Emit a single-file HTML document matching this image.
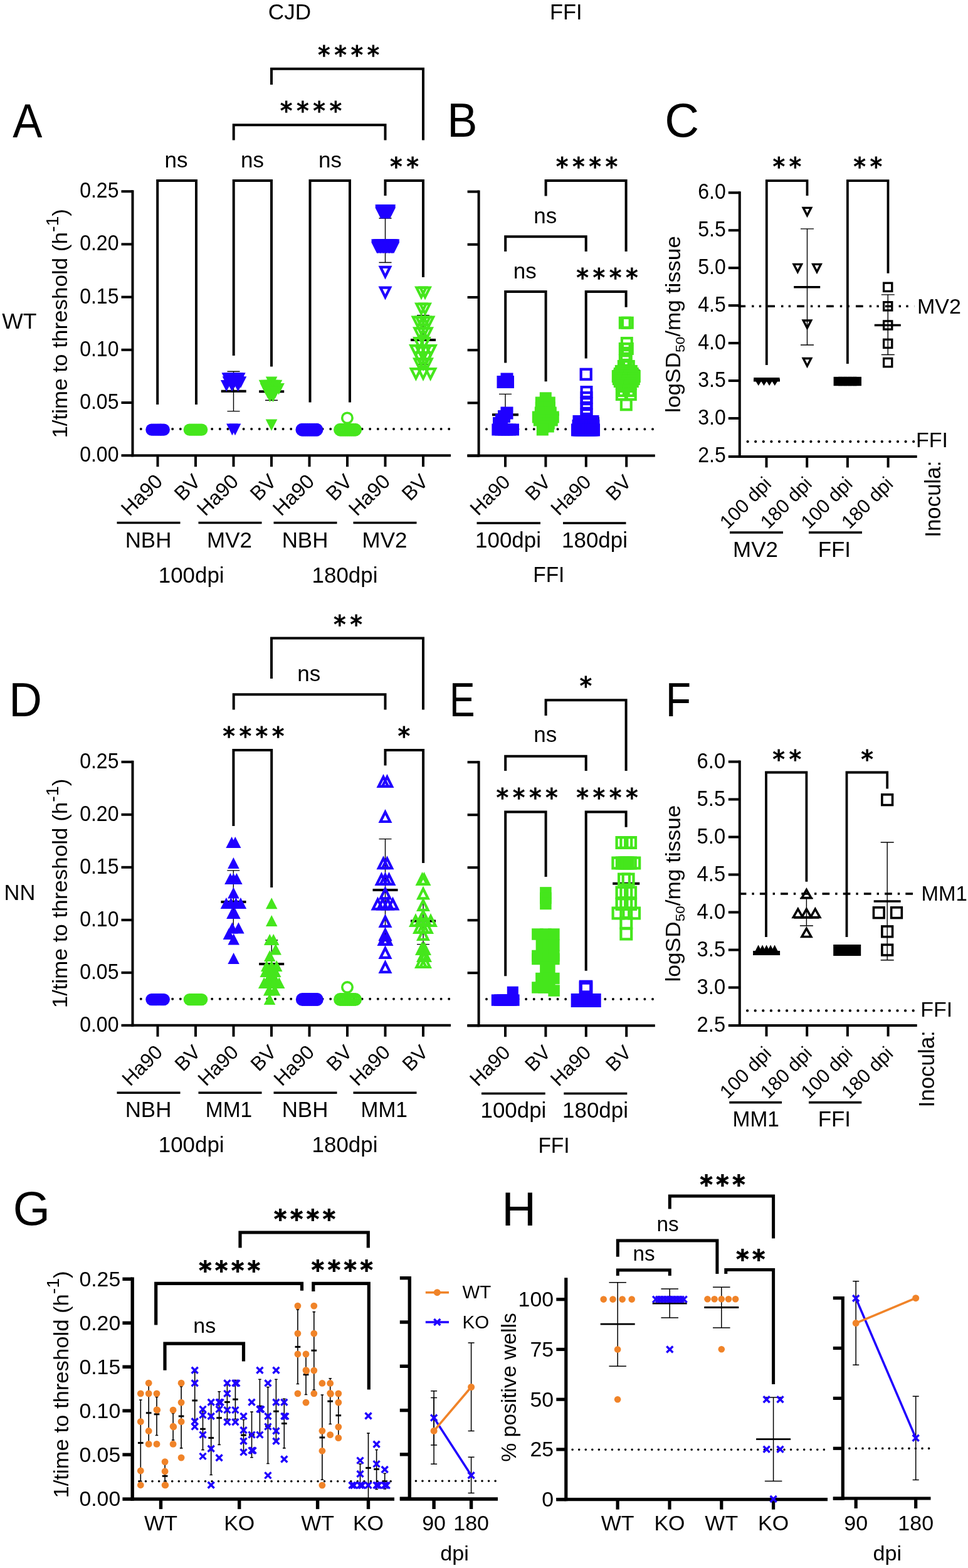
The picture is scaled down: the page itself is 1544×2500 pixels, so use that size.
<!DOCTYPE html>
<html lang="en">
<head>
<meta charset="utf-8">
<title>RT-QuIC seeding activity figure</title>
<style>
html,body{margin:0;padding:0;background:#fff;}
body{width:1544px;height:2500px;overflow:hidden;}
svg{display:block;}
svg text{font-family:"Liberation Sans",sans-serif;fill:#000;}
svg text.st{font-family:"DejaVu Sans","Liberation Sans",sans-serif;stroke:#000;stroke-width:1.25px;}
svg text.sb{font-family:"DejaVu Sans","Liberation Sans",sans-serif;stroke:#000;stroke-width:2px;}
</style>
</head>
<body>
<svg width="1544" height="2500" viewBox="0 0 1544 2500">
<rect x="0" y="0" width="1544" height="2500" fill="#fff"/>
<text transform="translate(462 30.6) scale(0.99 1)" font-size="35.5" text-anchor="middle">CJD</text>
<text transform="translate(902.8 30.6) scale(0.97 1)" font-size="35.5" text-anchor="middle">FFI</text>
<text x="3.3" y="523.8" font-size="35.5">WT</text>
<text transform="translate(6.6 1434.5) scale(0.97 1)" font-size="35.5">NN</text>
<text transform="translate(20.29 218.5) scale(0.93 1)" font-size="76" class="pl">A</text>
<text transform="translate(713.3 218.4) scale(0.95 1)" font-size="76" class="pl">B</text>
<text transform="translate(1060.27 218.4) scale(1 1)" font-size="76" class="pl">C</text>
<text transform="translate(14.21 1141.8) scale(0.96 1)" font-size="76" class="pl">D</text>
<text transform="translate(716.99 1141.9) scale(0.8 1)" font-size="76" class="pl">E</text>
<text transform="translate(1061.84 1141.9) scale(0.87 1)" font-size="76" class="pl">F</text>
<text transform="translate(20.76 1953.4) scale(1 1)" font-size="76" class="pl">G</text>
<text transform="translate(800.26 1953.9) scale(1 1)" font-size="76" class="pl">H</text>
<line x1="211.5" y1="303.2" x2="211.5" y2="728.2" stroke="#000" stroke-width="4"/>
<line x1="193.5" y1="305.2" x2="211.5" y2="305.2" stroke="#000" stroke-width="4"/>
<text transform="translate(189.5 315.2) scale(0.91 1)" font-size="35.2" text-anchor="end">0.25</text>
<line x1="193.5" y1="389.4" x2="211.5" y2="389.4" stroke="#000" stroke-width="4"/>
<text transform="translate(189.5 399.4) scale(0.91 1)" font-size="35.2" text-anchor="end">0.20</text>
<line x1="193.5" y1="473.6" x2="211.5" y2="473.6" stroke="#000" stroke-width="4"/>
<text transform="translate(189.5 483.6) scale(0.91 1)" font-size="35.2" text-anchor="end">0.15</text>
<line x1="193.5" y1="557.8" x2="211.5" y2="557.8" stroke="#000" stroke-width="4"/>
<text transform="translate(189.5 567.8) scale(0.91 1)" font-size="35.2" text-anchor="end">0.10</text>
<line x1="193.5" y1="642" x2="211.5" y2="642" stroke="#000" stroke-width="4"/>
<text transform="translate(189.5 652) scale(0.91 1)" font-size="35.2" text-anchor="end">0.05</text>
<line x1="193.5" y1="726.2" x2="211.5" y2="726.2" stroke="#000" stroke-width="4"/>
<text transform="translate(189.5 736.2) scale(0.91 1)" font-size="35.2" text-anchor="end">0.00</text>
<line x1="209.5" y1="726.2" x2="719" y2="726.2" stroke="#000" stroke-width="4"/>
<line x1="251.5" y1="726.2" x2="251.5" y2="744.2" stroke="#000" stroke-width="4"/>
<line x1="312" y1="726.2" x2="312" y2="744.2" stroke="#000" stroke-width="4"/>
<line x1="372.5" y1="726.2" x2="372.5" y2="744.2" stroke="#000" stroke-width="4"/>
<line x1="433" y1="726.2" x2="433" y2="744.2" stroke="#000" stroke-width="4"/>
<line x1="493.5" y1="726.2" x2="493.5" y2="744.2" stroke="#000" stroke-width="4"/>
<line x1="554" y1="726.2" x2="554" y2="744.2" stroke="#000" stroke-width="4"/>
<line x1="614.5" y1="726.2" x2="614.5" y2="744.2" stroke="#000" stroke-width="4"/>
<line x1="675" y1="726.2" x2="675" y2="744.2" stroke="#000" stroke-width="4"/>
<line x1="224.8" y1="684.1" x2="717" y2="684.1" stroke="#000" stroke-width="4" stroke-dasharray="0 12.6" stroke-linecap="round"/>
<line x1="763.6" y1="303.6" x2="763.6" y2="728.6" stroke="#000" stroke-width="4"/>
<line x1="745.6" y1="305.6" x2="763.6" y2="305.6" stroke="#000" stroke-width="4"/>
<line x1="745.6" y1="389.8" x2="763.6" y2="389.8" stroke="#000" stroke-width="4"/>
<line x1="745.6" y1="474" x2="763.6" y2="474" stroke="#000" stroke-width="4"/>
<line x1="745.6" y1="558.2" x2="763.6" y2="558.2" stroke="#000" stroke-width="4"/>
<line x1="745.6" y1="642.4" x2="763.6" y2="642.4" stroke="#000" stroke-width="4"/>
<line x1="745.6" y1="726.6" x2="763.6" y2="726.6" stroke="#000" stroke-width="4"/>
<line x1="745.3" y1="726.6" x2="1044.8" y2="726.6" stroke="#000" stroke-width="4"/>
<line x1="806" y1="726.6" x2="806" y2="744.6" stroke="#000" stroke-width="4"/>
<line x1="870.4" y1="726.6" x2="870.4" y2="744.6" stroke="#000" stroke-width="4"/>
<line x1="934.8" y1="726.6" x2="934.8" y2="744.6" stroke="#000" stroke-width="4"/>
<line x1="999.2" y1="726.6" x2="999.2" y2="744.6" stroke="#000" stroke-width="4"/>
<line x1="776" y1="684.3" x2="1043" y2="684.3" stroke="#000" stroke-width="4" stroke-dasharray="0 12.62" stroke-linecap="round"/>
<text transform="translate(107 515.8) rotate(-90) scale(1.06 1)" font-size="33" text-anchor="middle">1/time to threshold (h<tspan font-size="27" dy="-14.5">-1</tspan><tspan dy="14.5">)</tspan></text>
<text transform="translate(261.2 769.6) rotate(-45)" font-size="32.4" text-anchor="end">Ha90</text>
<text transform="translate(321.7 769.6) rotate(-45)" font-size="32.4" text-anchor="end">BV</text>
<text transform="translate(382.2 769.6) rotate(-45)" font-size="32.4" text-anchor="end">Ha90</text>
<text transform="translate(442.7 769.6) rotate(-45)" font-size="32.4" text-anchor="end">BV</text>
<text transform="translate(503.2 769.6) rotate(-45)" font-size="32.4" text-anchor="end">Ha90</text>
<text transform="translate(563.7 769.6) rotate(-45)" font-size="32.4" text-anchor="end">BV</text>
<text transform="translate(624.2 769.6) rotate(-45)" font-size="32.4" text-anchor="end">Ha90</text>
<text transform="translate(684.7 769.6) rotate(-45)" font-size="32.4" text-anchor="end">BV</text>
<line x1="186.5" y1="833.5" x2="287.5" y2="833.5" stroke="#000" stroke-width="3.5"/>
<line x1="316.5" y1="833.5" x2="417.5" y2="833.5" stroke="#000" stroke-width="3.5"/>
<line x1="436.5" y1="833.5" x2="537.5" y2="833.5" stroke="#000" stroke-width="3.5"/>
<line x1="563.5" y1="833.5" x2="664.5" y2="833.5" stroke="#000" stroke-width="3.5"/>
<text transform="translate(236.5 873) scale(0.97 1)" font-size="36" text-anchor="middle">NBH</text>
<text transform="translate(366 873) scale(0.97 1)" font-size="36" text-anchor="middle">MV2</text>
<text transform="translate(486.5 873) scale(0.97 1)" font-size="36" text-anchor="middle">NBH</text>
<text transform="translate(613.5 873) scale(0.97 1)" font-size="36" text-anchor="middle">MV2</text>
<text transform="translate(305.2 929) scale(0.97 1)" font-size="36" text-anchor="middle">100dpi</text>
<text transform="translate(550 929) scale(0.97 1)" font-size="36" text-anchor="middle">180dpi</text>
<path d="M251.2 645V288H313V645" fill="none" stroke="#000" stroke-width="4" stroke-linejoin="miter"/>
<path d="M372.7 567V288H433V584.5" fill="none" stroke="#000" stroke-width="4" stroke-linejoin="miter"/>
<path d="M494.5 641.5V288H558V641.5" fill="none" stroke="#000" stroke-width="4" stroke-linejoin="miter"/>
<path d="M614.5 312V288H675V442" fill="none" stroke="#000" stroke-width="4" stroke-linejoin="miter"/>
<path d="M372.7 223.5V199.3H614.5V223.5" fill="none" stroke="#000" stroke-width="4" stroke-linejoin="miter"/>
<path d="M433 135V109.8H675V223.5" fill="none" stroke="#000" stroke-width="4" stroke-linejoin="miter"/>
<text x="281" y="266.5" font-size="35" text-anchor="middle">ns</text>
<text x="402.5" y="266.5" font-size="35" text-anchor="middle">ns</text>
<text x="526.5" y="266.5" font-size="35" text-anchor="middle">ns</text>
<text x="622.27" y="279.13" font-size="38.5" class="st" letter-spacing="6.95">**</text>
<text x="447.08" y="190.43" font-size="38.5" class="st" letter-spacing="6.95">****</text>
<text x="507.28" y="101.43" font-size="38.5" class="st" letter-spacing="6.95">****</text>
<circle cx="241.9" cy="685.1" r="9.65" fill="#1f00ff"/>
<circle cx="244.67" cy="685.1" r="9.65" fill="#1f00ff"/>
<circle cx="247.44" cy="685.1" r="9.65" fill="#1f00ff"/>
<circle cx="250.21" cy="685.1" r="9.65" fill="#1f00ff"/>
<circle cx="252.99" cy="685.1" r="9.65" fill="#1f00ff"/>
<circle cx="255.76" cy="685.1" r="9.65" fill="#1f00ff"/>
<circle cx="258.53" cy="685.1" r="9.65" fill="#1f00ff"/>
<circle cx="261.3" cy="685.1" r="9.65" fill="#1f00ff"/>
<circle cx="302.3" cy="685.1" r="9.65" fill="#45e61c"/>
<circle cx="305.07" cy="685.1" r="9.65" fill="#45e61c"/>
<circle cx="307.84" cy="685.1" r="9.65" fill="#45e61c"/>
<circle cx="310.61" cy="685.1" r="9.65" fill="#45e61c"/>
<circle cx="313.39" cy="685.1" r="9.65" fill="#45e61c"/>
<circle cx="316.16" cy="685.1" r="9.65" fill="#45e61c"/>
<circle cx="318.93" cy="685.1" r="9.65" fill="#45e61c"/>
<circle cx="321.7" cy="685.1" r="9.65" fill="#45e61c"/>
<path d="M372.5 592.3V655.6M362.5 592.3H382.5M362.5 655.6H382.5" stroke="#000" stroke-width="1.4" fill="none"/>
<line x1="352.7" y1="623.7" x2="392.7" y2="623.7" stroke="#000" stroke-width="4"/>
<polygon points="353.5,594.3 372.1,594.3 362.8,612.9" fill="#1f00ff"/>
<polygon points="356.75,594.3 375.35,594.3 366.05,612.9" fill="#1f00ff"/>
<polygon points="360,594.3 378.6,594.3 369.3,612.9" fill="#1f00ff"/>
<polygon points="363.25,594.3 381.85,594.3 372.55,612.9" fill="#1f00ff"/>
<polygon points="366.5,594.3 385.1,594.3 375.8,612.9" fill="#1f00ff"/>
<polygon points="369.75,594.3 388.35,594.3 379.05,612.9" fill="#1f00ff"/>
<polygon points="373,594.3 391.6,594.3 382.3,612.9" fill="#1f00ff"/>
<polygon points="354.7,600.2 373.3,600.2 364,618.8" fill="#1f00ff"/>
<polygon points="358.03,600.2 376.63,600.2 367.33,618.8" fill="#1f00ff"/>
<polygon points="361.37,600.2 379.97,600.2 370.67,618.8" fill="#1f00ff"/>
<polygon points="364.7,600.2 383.3,600.2 374,618.8" fill="#1f00ff"/>
<polygon points="368.03,600.2 386.63,600.2 377.33,618.8" fill="#1f00ff"/>
<polygon points="371.37,600.2 389.97,600.2 380.67,618.8" fill="#1f00ff"/>
<polygon points="374.7,600.2 393.3,600.2 384,618.8" fill="#1f00ff"/>
<polygon points="351.9,606 370.5,606 361.2,624.6" fill="#1f00ff"/>
<polygon points="360.7,606 379.3,606 370,624.6" fill="#1f00ff"/>
<polygon points="370.4,606 389,606 379.7,624.6" fill="#1f00ff"/>
<polygon points="361.1,675.6 379.7,675.6 370.4,694.2" fill="#1f00ff"/>
<polygon points="365.7,675.6 384.3,675.6 375,694.2" fill="#1f00ff"/>
<path d="M433 610V638.3M423 610H443M423 638.3H443" stroke="#000" stroke-width="1.4" fill="none"/>
<line x1="413.2" y1="624.2" x2="453.2" y2="624.2" stroke="#000" stroke-width="4"/>
<polygon points="423.8,600.6 442.4,600.6 433.1,619.2" fill="#45e61c"/>
<polygon points="412.7,605.7 431.3,605.7 422,624.3" fill="#45e61c"/>
<polygon points="416.5,605.7 435.1,605.7 425.8,624.3" fill="#45e61c"/>
<polygon points="420.3,605.7 438.9,605.7 429.6,624.3" fill="#45e61c"/>
<polygon points="424.1,605.7 442.7,605.7 433.4,624.3" fill="#45e61c"/>
<polygon points="427.9,605.7 446.5,605.7 437.2,624.3" fill="#45e61c"/>
<polygon points="431.7,605.7 450.3,605.7 441,624.3" fill="#45e61c"/>
<polygon points="414.7,611 433.3,611 424,629.6" fill="#45e61c"/>
<polygon points="418.82,611 437.42,611 428.12,629.6" fill="#45e61c"/>
<polygon points="422.94,611 441.54,611 432.24,629.6" fill="#45e61c"/>
<polygon points="427.06,611 445.66,611 436.36,629.6" fill="#45e61c"/>
<polygon points="431.18,611 449.78,611 440.48,629.6" fill="#45e61c"/>
<polygon points="435.3,611 453.9,611 444.6,629.6" fill="#45e61c"/>
<polygon points="417.7,616.7 436.3,616.7 427,635.3" fill="#45e61c"/>
<polygon points="423.7,616.7 442.3,616.7 433,635.3" fill="#45e61c"/>
<polygon points="429.7,616.7 448.3,616.7 439,635.3" fill="#45e61c"/>
<polygon points="421.2,622.6 439.8,622.6 430.5,641.2" fill="#45e61c"/>
<polygon points="426.2,622.6 444.8,622.6 435.5,641.2" fill="#45e61c"/>
<polygon points="423.7,668.4 442.3,668.4 433,687" fill="#45e61c"/>
<circle cx="481.9" cy="685.2" r="8.7" fill="none" stroke="#1f00ff" stroke-width="3.6"/>
<circle cx="484.77" cy="685.2" r="8.7" fill="none" stroke="#1f00ff" stroke-width="3.6"/>
<circle cx="487.65" cy="685.2" r="8.7" fill="none" stroke="#1f00ff" stroke-width="3.6"/>
<circle cx="490.52" cy="685.2" r="8.7" fill="none" stroke="#1f00ff" stroke-width="3.6"/>
<circle cx="493.4" cy="685.2" r="8.7" fill="none" stroke="#1f00ff" stroke-width="3.6"/>
<circle cx="496.27" cy="685.2" r="8.7" fill="none" stroke="#1f00ff" stroke-width="3.6"/>
<circle cx="499.15" cy="685.2" r="8.7" fill="none" stroke="#1f00ff" stroke-width="3.6"/>
<circle cx="502.02" cy="685.2" r="8.7" fill="none" stroke="#1f00ff" stroke-width="3.6"/>
<circle cx="504.9" cy="685.2" r="8.7" fill="none" stroke="#1f00ff" stroke-width="3.6"/>
<circle cx="542.6" cy="685.2" r="8.7" fill="none" stroke="#45e61c" stroke-width="3.6"/>
<circle cx="545.6" cy="685.2" r="8.7" fill="none" stroke="#45e61c" stroke-width="3.6"/>
<circle cx="548.6" cy="685.2" r="8.7" fill="none" stroke="#45e61c" stroke-width="3.6"/>
<circle cx="551.6" cy="685.2" r="8.7" fill="none" stroke="#45e61c" stroke-width="3.6"/>
<circle cx="554.6" cy="685.2" r="8.7" fill="none" stroke="#45e61c" stroke-width="3.6"/>
<circle cx="557.6" cy="685.2" r="8.7" fill="none" stroke="#45e61c" stroke-width="3.6"/>
<circle cx="560.6" cy="685.2" r="8.7" fill="none" stroke="#45e61c" stroke-width="3.6"/>
<circle cx="563.6" cy="685.2" r="8.7" fill="none" stroke="#45e61c" stroke-width="3.6"/>
<circle cx="566.6" cy="685.2" r="8.7" fill="none" stroke="#45e61c" stroke-width="3.6"/>
<circle cx="553.9" cy="666.4" r="8.2" fill="none" stroke="#45e61c" stroke-width="3.6"/>
<path d="M614.5 348V418.5M604.5 348H624.5M604.5 418.5H624.5" stroke="#000" stroke-width="1.4" fill="none"/>
<polygon points="598.2,326.3 616.8,326.3 607.5,344.9" fill="#1f00ff"/>
<polygon points="599.51,326.3 618.11,326.3 608.81,344.9" fill="#1f00ff"/>
<polygon points="600.82,326.3 619.42,326.3 610.12,344.9" fill="#1f00ff"/>
<polygon points="602.13,326.3 620.73,326.3 611.43,344.9" fill="#1f00ff"/>
<polygon points="603.44,326.3 622.04,326.3 612.74,344.9" fill="#1f00ff"/>
<polygon points="604.75,326.3 623.35,326.3 614.05,344.9" fill="#1f00ff"/>
<polygon points="606.05,326.3 624.65,326.3 615.35,344.9" fill="#1f00ff"/>
<polygon points="607.36,326.3 625.96,326.3 616.66,344.9" fill="#1f00ff"/>
<polygon points="608.67,326.3 627.27,326.3 617.97,344.9" fill="#1f00ff"/>
<polygon points="609.98,326.3 628.58,326.3 619.28,344.9" fill="#1f00ff"/>
<polygon points="611.29,326.3 629.89,326.3 620.59,344.9" fill="#1f00ff"/>
<polygon points="612.6,326.3 631.2,326.3 621.9,344.9" fill="#1f00ff"/>
<polygon points="598.2,328.5 616.8,328.5 607.5,347.1" fill="#1f00ff"/>
<polygon points="599.51,328.5 618.11,328.5 608.81,347.1" fill="#1f00ff"/>
<polygon points="600.82,328.5 619.42,328.5 610.12,347.1" fill="#1f00ff"/>
<polygon points="602.13,328.5 620.73,328.5 611.43,347.1" fill="#1f00ff"/>
<polygon points="603.44,328.5 622.04,328.5 612.74,347.1" fill="#1f00ff"/>
<polygon points="604.75,328.5 623.35,328.5 614.05,347.1" fill="#1f00ff"/>
<polygon points="606.05,328.5 624.65,328.5 615.35,347.1" fill="#1f00ff"/>
<polygon points="607.36,328.5 625.96,328.5 616.66,347.1" fill="#1f00ff"/>
<polygon points="608.67,328.5 627.27,328.5 617.97,347.1" fill="#1f00ff"/>
<polygon points="609.98,328.5 628.58,328.5 619.28,347.1" fill="#1f00ff"/>
<polygon points="611.29,328.5 629.89,328.5 620.59,347.1" fill="#1f00ff"/>
<polygon points="612.6,328.5 631.2,328.5 621.9,347.1" fill="#1f00ff"/>
<polygon points="598.2,330.5 616.8,330.5 607.5,349.1" fill="#1f00ff"/>
<polygon points="599.51,330.5 618.11,330.5 608.81,349.1" fill="#1f00ff"/>
<polygon points="600.82,330.5 619.42,330.5 610.12,349.1" fill="#1f00ff"/>
<polygon points="602.13,330.5 620.73,330.5 611.43,349.1" fill="#1f00ff"/>
<polygon points="603.44,330.5 622.04,330.5 612.74,349.1" fill="#1f00ff"/>
<polygon points="604.75,330.5 623.35,330.5 614.05,349.1" fill="#1f00ff"/>
<polygon points="606.05,330.5 624.65,330.5 615.35,349.1" fill="#1f00ff"/>
<polygon points="607.36,330.5 625.96,330.5 616.66,349.1" fill="#1f00ff"/>
<polygon points="608.67,330.5 627.27,330.5 617.97,349.1" fill="#1f00ff"/>
<polygon points="609.98,330.5 628.58,330.5 619.28,349.1" fill="#1f00ff"/>
<polygon points="611.29,330.5 629.89,330.5 620.59,349.1" fill="#1f00ff"/>
<polygon points="612.6,330.5 631.2,330.5 621.9,349.1" fill="#1f00ff"/>
<polygon points="592,381.6 610.6,381.6 601.3,400.2" fill="#1f00ff"/>
<polygon points="593.28,381.6 611.88,381.6 602.58,400.2" fill="#1f00ff"/>
<polygon points="594.55,381.6 613.15,381.6 603.85,400.2" fill="#1f00ff"/>
<polygon points="595.83,381.6 614.43,381.6 605.13,400.2" fill="#1f00ff"/>
<polygon points="597.1,381.6 615.7,381.6 606.4,400.2" fill="#1f00ff"/>
<polygon points="598.38,381.6 616.98,381.6 607.68,400.2" fill="#1f00ff"/>
<polygon points="599.66,381.6 618.26,381.6 608.96,400.2" fill="#1f00ff"/>
<polygon points="600.93,381.6 619.53,381.6 610.23,400.2" fill="#1f00ff"/>
<polygon points="602.21,381.6 620.81,381.6 611.51,400.2" fill="#1f00ff"/>
<polygon points="603.49,381.6 622.09,381.6 612.79,400.2" fill="#1f00ff"/>
<polygon points="604.76,381.6 623.36,381.6 614.06,400.2" fill="#1f00ff"/>
<polygon points="606.04,381.6 624.64,381.6 615.34,400.2" fill="#1f00ff"/>
<polygon points="607.31,381.6 625.91,381.6 616.61,400.2" fill="#1f00ff"/>
<polygon points="608.59,381.6 627.19,381.6 617.89,400.2" fill="#1f00ff"/>
<polygon points="609.87,381.6 628.47,381.6 619.17,400.2" fill="#1f00ff"/>
<polygon points="611.14,381.6 629.74,381.6 620.44,400.2" fill="#1f00ff"/>
<polygon points="612.42,381.6 631.02,381.6 621.72,400.2" fill="#1f00ff"/>
<polygon points="613.7,381.6 632.3,381.6 623,400.2" fill="#1f00ff"/>
<polygon points="614.97,381.6 633.57,381.6 624.27,400.2" fill="#1f00ff"/>
<polygon points="616.25,381.6 634.85,381.6 625.55,400.2" fill="#1f00ff"/>
<polygon points="617.52,381.6 636.12,381.6 626.82,400.2" fill="#1f00ff"/>
<polygon points="618.8,381.6 637.4,381.6 628.1,400.2" fill="#1f00ff"/>
<polygon points="592,383.7 610.6,383.7 601.3,402.3" fill="#1f00ff"/>
<polygon points="593.28,383.7 611.88,383.7 602.58,402.3" fill="#1f00ff"/>
<polygon points="594.55,383.7 613.15,383.7 603.85,402.3" fill="#1f00ff"/>
<polygon points="595.83,383.7 614.43,383.7 605.13,402.3" fill="#1f00ff"/>
<polygon points="597.1,383.7 615.7,383.7 606.4,402.3" fill="#1f00ff"/>
<polygon points="598.38,383.7 616.98,383.7 607.68,402.3" fill="#1f00ff"/>
<polygon points="599.66,383.7 618.26,383.7 608.96,402.3" fill="#1f00ff"/>
<polygon points="600.93,383.7 619.53,383.7 610.23,402.3" fill="#1f00ff"/>
<polygon points="602.21,383.7 620.81,383.7 611.51,402.3" fill="#1f00ff"/>
<polygon points="603.49,383.7 622.09,383.7 612.79,402.3" fill="#1f00ff"/>
<polygon points="604.76,383.7 623.36,383.7 614.06,402.3" fill="#1f00ff"/>
<polygon points="606.04,383.7 624.64,383.7 615.34,402.3" fill="#1f00ff"/>
<polygon points="607.31,383.7 625.91,383.7 616.61,402.3" fill="#1f00ff"/>
<polygon points="608.59,383.7 627.19,383.7 617.89,402.3" fill="#1f00ff"/>
<polygon points="609.87,383.7 628.47,383.7 619.17,402.3" fill="#1f00ff"/>
<polygon points="611.14,383.7 629.74,383.7 620.44,402.3" fill="#1f00ff"/>
<polygon points="612.42,383.7 631.02,383.7 621.72,402.3" fill="#1f00ff"/>
<polygon points="613.7,383.7 632.3,383.7 623,402.3" fill="#1f00ff"/>
<polygon points="614.97,383.7 633.57,383.7 624.27,402.3" fill="#1f00ff"/>
<polygon points="616.25,383.7 634.85,383.7 625.55,402.3" fill="#1f00ff"/>
<polygon points="617.52,383.7 636.12,383.7 626.82,402.3" fill="#1f00ff"/>
<polygon points="618.8,383.7 637.4,383.7 628.1,402.3" fill="#1f00ff"/>
<polygon points="592,385.7 610.6,385.7 601.3,404.3" fill="#1f00ff"/>
<polygon points="593.28,385.7 611.88,385.7 602.58,404.3" fill="#1f00ff"/>
<polygon points="594.55,385.7 613.15,385.7 603.85,404.3" fill="#1f00ff"/>
<polygon points="595.83,385.7 614.43,385.7 605.13,404.3" fill="#1f00ff"/>
<polygon points="597.1,385.7 615.7,385.7 606.4,404.3" fill="#1f00ff"/>
<polygon points="598.38,385.7 616.98,385.7 607.68,404.3" fill="#1f00ff"/>
<polygon points="599.66,385.7 618.26,385.7 608.96,404.3" fill="#1f00ff"/>
<polygon points="600.93,385.7 619.53,385.7 610.23,404.3" fill="#1f00ff"/>
<polygon points="602.21,385.7 620.81,385.7 611.51,404.3" fill="#1f00ff"/>
<polygon points="603.49,385.7 622.09,385.7 612.79,404.3" fill="#1f00ff"/>
<polygon points="604.76,385.7 623.36,385.7 614.06,404.3" fill="#1f00ff"/>
<polygon points="606.04,385.7 624.64,385.7 615.34,404.3" fill="#1f00ff"/>
<polygon points="607.31,385.7 625.91,385.7 616.61,404.3" fill="#1f00ff"/>
<polygon points="608.59,385.7 627.19,385.7 617.89,404.3" fill="#1f00ff"/>
<polygon points="609.87,385.7 628.47,385.7 619.17,404.3" fill="#1f00ff"/>
<polygon points="611.14,385.7 629.74,385.7 620.44,404.3" fill="#1f00ff"/>
<polygon points="612.42,385.7 631.02,385.7 621.72,404.3" fill="#1f00ff"/>
<polygon points="613.7,385.7 632.3,385.7 623,404.3" fill="#1f00ff"/>
<polygon points="614.97,385.7 633.57,385.7 624.27,404.3" fill="#1f00ff"/>
<polygon points="616.25,385.7 634.85,385.7 625.55,404.3" fill="#1f00ff"/>
<polygon points="617.52,385.7 636.12,385.7 626.82,404.3" fill="#1f00ff"/>
<polygon points="618.8,385.7 637.4,385.7 628.1,404.3" fill="#1f00ff"/>
<polygon points="606.9,425.8 622.1,425.8 614.5,441" fill="none" stroke="#1f00ff" stroke-width="4.2" stroke-linejoin="miter"/>
<polygon points="606.9,458.6 622.1,458.6 614.5,473.8" fill="none" stroke="#1f00ff" stroke-width="4.2" stroke-linejoin="miter"/>
<path d="M675 502.8V581M665 502.8H685M665 581H685" stroke="#000" stroke-width="1.4" fill="none"/>
<line x1="655" y1="541.9" x2="695" y2="541.9" stroke="#000" stroke-width="4"/>
<polygon points="664.4,458.6 679.6,458.6 672,473.8" fill="none" stroke="#45e61c" stroke-width="4.2" stroke-linejoin="miter"/>
<polygon points="670.4,458.6 685.6,458.6 678,473.8" fill="none" stroke="#45e61c" stroke-width="4.2" stroke-linejoin="miter"/>
<polygon points="664.4,484.7 679.6,484.7 672,499.9" fill="none" stroke="#45e61c" stroke-width="4.2" stroke-linejoin="miter"/>
<polygon points="670.4,484.7 685.6,484.7 678,499.9" fill="none" stroke="#45e61c" stroke-width="4.2" stroke-linejoin="miter"/>
<polygon points="658.9,505.6 674.1,505.6 666.5,520.8" fill="none" stroke="#45e61c" stroke-width="4.2" stroke-linejoin="miter"/>
<polygon points="664.4,505.6 679.6,505.6 672,520.8" fill="none" stroke="#45e61c" stroke-width="4.2" stroke-linejoin="miter"/>
<polygon points="670.4,505.6 685.6,505.6 678,520.8" fill="none" stroke="#45e61c" stroke-width="4.2" stroke-linejoin="miter"/>
<polygon points="675.9,505.6 691.1,505.6 683.5,520.8" fill="none" stroke="#45e61c" stroke-width="4.2" stroke-linejoin="miter"/>
<polygon points="661.4,523.4 676.6,523.4 669,538.6" fill="none" stroke="#45e61c" stroke-width="4.2" stroke-linejoin="miter"/>
<polygon points="667.4,523.4 682.6,523.4 675,538.6" fill="none" stroke="#45e61c" stroke-width="4.2" stroke-linejoin="miter"/>
<polygon points="673.4,523.4 688.6,523.4 681,538.6" fill="none" stroke="#45e61c" stroke-width="4.2" stroke-linejoin="miter"/>
<polygon points="661.4,539.1 676.6,539.1 669,554.3" fill="none" stroke="#45e61c" stroke-width="4.2" stroke-linejoin="miter"/>
<polygon points="669.4,539.1 684.6,539.1 677,554.3" fill="none" stroke="#45e61c" stroke-width="4.2" stroke-linejoin="miter"/>
<polygon points="655.4,551.1 670.6,551.1 663,566.3" fill="none" stroke="#45e61c" stroke-width="4.2" stroke-linejoin="miter"/>
<polygon points="663.4,551.1 678.6,551.1 671,566.3" fill="none" stroke="#45e61c" stroke-width="4.2" stroke-linejoin="miter"/>
<polygon points="671.4,551.1 686.6,551.1 679,566.3" fill="none" stroke="#45e61c" stroke-width="4.2" stroke-linejoin="miter"/>
<polygon points="679.4,551.1 694.6,551.1 687,566.3" fill="none" stroke="#45e61c" stroke-width="4.2" stroke-linejoin="miter"/>
<polygon points="661.4,562.1 676.6,562.1 669,577.3" fill="none" stroke="#45e61c" stroke-width="4.2" stroke-linejoin="miter"/>
<polygon points="673.4,562.1 688.6,562.1 681,577.3" fill="none" stroke="#45e61c" stroke-width="4.2" stroke-linejoin="miter"/>
<polygon points="661.4,572.4 676.6,572.4 669,587.6" fill="none" stroke="#45e61c" stroke-width="4.2" stroke-linejoin="miter"/>
<polygon points="667.4,572.4 682.6,572.4 675,587.6" fill="none" stroke="#45e61c" stroke-width="4.2" stroke-linejoin="miter"/>
<polygon points="673.4,572.4 688.6,572.4 681,587.6" fill="none" stroke="#45e61c" stroke-width="4.2" stroke-linejoin="miter"/>
<polygon points="655.8,588.1 671,588.1 663.4,603.3" fill="none" stroke="#45e61c" stroke-width="4.2" stroke-linejoin="miter"/>
<polygon points="667.4,588.1 682.6,588.1 675,603.3" fill="none" stroke="#45e61c" stroke-width="4.2" stroke-linejoin="miter"/>
<polygon points="679,588.1 694.2,588.1 686.6,603.3" fill="none" stroke="#45e61c" stroke-width="4.2" stroke-linejoin="miter"/>
<text transform="translate(815.7 770.4) rotate(-45)" font-size="31.4" text-anchor="end">Ha90</text>
<text transform="translate(880.1 770.4) rotate(-45)" font-size="31.4" text-anchor="end">BV</text>
<text transform="translate(944.5 770.4) rotate(-45)" font-size="31.4" text-anchor="end">Ha90</text>
<text transform="translate(1008.9 770.4) rotate(-45)" font-size="31.4" text-anchor="end">BV</text>
<line x1="760.5" y1="834" x2="862" y2="834" stroke="#000" stroke-width="3.5"/>
<line x1="898" y1="834" x2="998.5" y2="834" stroke="#000" stroke-width="3.5"/>
<text transform="translate(810.5 873) scale(0.97 1)" font-size="36" text-anchor="middle">100dpi</text>
<text transform="translate(948.5 873) scale(0.97 1)" font-size="36" text-anchor="middle">180dpi</text>
<text transform="translate(875.3 928) scale(0.93 1)" font-size="36" text-anchor="middle">FFI</text>
<path d="M806.2 578.6V465H870.6V608.3" fill="none" stroke="#000" stroke-width="4" stroke-linejoin="miter"/>
<path d="M934.7 571.6V465H998.6V489.7" fill="none" stroke="#000" stroke-width="4" stroke-linejoin="miter"/>
<path d="M806.2 401V377.3H934.7V401" fill="none" stroke="#000" stroke-width="4" stroke-linejoin="miter"/>
<path d="M870.6 312.5V288H998.6V401" fill="none" stroke="#000" stroke-width="4" stroke-linejoin="miter"/>
<text x="837.3" y="444.3" font-size="35" text-anchor="middle">ns</text>
<text x="869.7" y="356" font-size="35" text-anchor="middle">ns</text>
<text x="919.58" y="456.33" font-size="38.5" class="st" letter-spacing="6.95">****</text>
<text x="887.08" y="279.43" font-size="38.5" class="st" letter-spacing="6.95">****</text>
<path d="M806 628.4V661M796 628.4H816M796 661H816" stroke="#000" stroke-width="1.4" fill="none"/>
<line x1="785" y1="661.2" x2="827" y2="661.2" stroke="#000" stroke-width="4"/>
<rect x="798.5" y="594.5" width="20" height="20" fill="#1f00ff"/>
<rect x="792.5" y="599" width="20" height="20" fill="#1f00ff"/>
<rect x="800" y="599" width="20" height="20" fill="#1f00ff"/>
<rect x="798.5" y="648.5" width="20" height="20" fill="#1f00ff"/>
<rect x="794" y="654" width="20" height="20" fill="#1f00ff"/>
<rect x="790" y="660" width="20" height="20" fill="#1f00ff"/>
<rect x="786" y="665" width="20" height="20" fill="#1f00ff"/>
<rect x="784.4" y="675.5" width="19" height="19" fill="#1f00ff"/>
<rect x="789.32" y="675.5" width="19" height="19" fill="#1f00ff"/>
<rect x="794.24" y="675.5" width="19" height="19" fill="#1f00ff"/>
<rect x="799.16" y="675.5" width="19" height="19" fill="#1f00ff"/>
<rect x="804.08" y="675.5" width="19" height="19" fill="#1f00ff"/>
<rect x="809" y="675.5" width="19" height="19" fill="#1f00ff"/>
<line x1="849.5" y1="661" x2="891.5" y2="661" stroke="#000" stroke-width="4"/>
<rect x="860.8" y="625.3" width="19" height="19" fill="#45e61c"/>
<rect x="853.8" y="632.5" width="19" height="19" fill="#45e61c"/>
<rect x="866.8" y="632.5" width="19" height="19" fill="#45e61c"/>
<rect x="853.8" y="640.5" width="19" height="19" fill="#45e61c"/>
<rect x="866.8" y="640.5" width="19" height="19" fill="#45e61c"/>
<rect x="852.8" y="648.5" width="19" height="19" fill="#45e61c"/>
<rect x="860.8" y="648.5" width="19" height="19" fill="#45e61c"/>
<rect x="868.8" y="648.5" width="19" height="19" fill="#45e61c"/>
<rect x="848.8" y="655.5" width="19" height="19" fill="#45e61c"/>
<rect x="860.8" y="655.5" width="19" height="19" fill="#45e61c"/>
<rect x="872.8" y="655.5" width="19" height="19" fill="#45e61c"/>
<rect x="850.8" y="660.5" width="19" height="19" fill="#45e61c"/>
<rect x="860.8" y="660.5" width="19" height="19" fill="#45e61c"/>
<rect x="870.8" y="660.5" width="19" height="19" fill="#45e61c"/>
<rect x="856.8" y="665.5" width="19" height="19" fill="#45e61c"/>
<rect x="865.8" y="665.5" width="19" height="19" fill="#45e61c"/>
<rect x="856.8" y="670.5" width="19" height="19" fill="#45e61c"/>
<rect x="864.8" y="670.5" width="19" height="19" fill="#45e61c"/>
<rect x="855.8" y="675.5" width="19" height="19" fill="#45e61c"/>
<line x1="914" y1="667" x2="956" y2="667" stroke="#000" stroke-width="4"/>
<rect x="926.65" y="588.75" width="16.1" height="16.1" fill="none" stroke="#1f00ff" stroke-width="4.2"/>
<rect x="927.6" y="617.1" width="15.8" height="15.8" fill="none" stroke="#1f00ff" stroke-width="4.2"/>
<rect x="927.6" y="626.1" width="15.8" height="15.8" fill="none" stroke="#1f00ff" stroke-width="4.2"/>
<rect x="927.6" y="635.1" width="15.8" height="15.8" fill="none" stroke="#1f00ff" stroke-width="4.2"/>
<rect x="927.6" y="644.1" width="15.8" height="15.8" fill="none" stroke="#1f00ff" stroke-width="4.2"/>
<rect x="927.6" y="653.1" width="15.8" height="15.8" fill="none" stroke="#1f00ff" stroke-width="4.2"/>
<rect x="915.6" y="664.1" width="15.8" height="15.8" fill="none" stroke="#1f00ff" stroke-width="4.2"/>
<rect x="918.35" y="664.1" width="15.8" height="15.8" fill="none" stroke="#1f00ff" stroke-width="4.2"/>
<rect x="921.1" y="664.1" width="15.8" height="15.8" fill="none" stroke="#1f00ff" stroke-width="4.2"/>
<rect x="923.85" y="664.1" width="15.8" height="15.8" fill="none" stroke="#1f00ff" stroke-width="4.2"/>
<rect x="926.6" y="664.1" width="15.8" height="15.8" fill="none" stroke="#1f00ff" stroke-width="4.2"/>
<rect x="929.35" y="664.1" width="15.8" height="15.8" fill="none" stroke="#1f00ff" stroke-width="4.2"/>
<rect x="932.1" y="664.1" width="15.8" height="15.8" fill="none" stroke="#1f00ff" stroke-width="4.2"/>
<rect x="934.85" y="664.1" width="15.8" height="15.8" fill="none" stroke="#1f00ff" stroke-width="4.2"/>
<rect x="937.6" y="664.1" width="15.8" height="15.8" fill="none" stroke="#1f00ff" stroke-width="4.2"/>
<rect x="914.6" y="671.1" width="15.8" height="15.8" fill="none" stroke="#1f00ff" stroke-width="4.2"/>
<rect x="917.27" y="671.1" width="15.8" height="15.8" fill="none" stroke="#1f00ff" stroke-width="4.2"/>
<rect x="919.93" y="671.1" width="15.8" height="15.8" fill="none" stroke="#1f00ff" stroke-width="4.2"/>
<rect x="922.6" y="671.1" width="15.8" height="15.8" fill="none" stroke="#1f00ff" stroke-width="4.2"/>
<rect x="925.27" y="671.1" width="15.8" height="15.8" fill="none" stroke="#1f00ff" stroke-width="4.2"/>
<rect x="927.93" y="671.1" width="15.8" height="15.8" fill="none" stroke="#1f00ff" stroke-width="4.2"/>
<rect x="930.6" y="671.1" width="15.8" height="15.8" fill="none" stroke="#1f00ff" stroke-width="4.2"/>
<rect x="933.27" y="671.1" width="15.8" height="15.8" fill="none" stroke="#1f00ff" stroke-width="4.2"/>
<rect x="935.93" y="671.1" width="15.8" height="15.8" fill="none" stroke="#1f00ff" stroke-width="4.2"/>
<rect x="938.6" y="671.1" width="15.8" height="15.8" fill="none" stroke="#1f00ff" stroke-width="4.2"/>
<rect x="913.1" y="677.6" width="15.8" height="15.8" fill="none" stroke="#1f00ff" stroke-width="4.2"/>
<rect x="915.46" y="677.6" width="15.8" height="15.8" fill="none" stroke="#1f00ff" stroke-width="4.2"/>
<rect x="917.83" y="677.6" width="15.8" height="15.8" fill="none" stroke="#1f00ff" stroke-width="4.2"/>
<rect x="920.19" y="677.6" width="15.8" height="15.8" fill="none" stroke="#1f00ff" stroke-width="4.2"/>
<rect x="922.55" y="677.6" width="15.8" height="15.8" fill="none" stroke="#1f00ff" stroke-width="4.2"/>
<rect x="924.92" y="677.6" width="15.8" height="15.8" fill="none" stroke="#1f00ff" stroke-width="4.2"/>
<rect x="927.28" y="677.6" width="15.8" height="15.8" fill="none" stroke="#1f00ff" stroke-width="4.2"/>
<rect x="929.65" y="677.6" width="15.8" height="15.8" fill="none" stroke="#1f00ff" stroke-width="4.2"/>
<rect x="932.01" y="677.6" width="15.8" height="15.8" fill="none" stroke="#1f00ff" stroke-width="4.2"/>
<rect x="934.37" y="677.6" width="15.8" height="15.8" fill="none" stroke="#1f00ff" stroke-width="4.2"/>
<rect x="936.74" y="677.6" width="15.8" height="15.8" fill="none" stroke="#1f00ff" stroke-width="4.2"/>
<rect x="939.1" y="677.6" width="15.8" height="15.8" fill="none" stroke="#1f00ff" stroke-width="4.2"/>
<line x1="978.5" y1="591.3" x2="1020.5" y2="591.3" stroke="#000" stroke-width="4"/>
<rect x="988.9" y="506.8" width="15.8" height="15.8" fill="none" stroke="#45e61c" stroke-width="4.2"/>
<rect x="992.9" y="506.8" width="15.8" height="15.8" fill="none" stroke="#45e61c" stroke-width="4.2"/>
<rect x="991.9" y="539.1" width="15.8" height="15.8" fill="none" stroke="#45e61c" stroke-width="4.2"/>
<rect x="988.9" y="548.1" width="15.8" height="15.8" fill="none" stroke="#45e61c" stroke-width="4.2"/>
<rect x="992.9" y="548.1" width="15.8" height="15.8" fill="none" stroke="#45e61c" stroke-width="4.2"/>
<rect x="989.9" y="558.1" width="15.8" height="15.8" fill="none" stroke="#45e61c" stroke-width="4.2"/>
<rect x="990.9" y="567.1" width="15.8" height="15.8" fill="none" stroke="#45e61c" stroke-width="4.2"/>
<rect x="988.9" y="567.1" width="15.8" height="15.8" fill="none" stroke="#45e61c" stroke-width="4.2"/>
<rect x="986.9" y="576.1" width="15.8" height="15.8" fill="none" stroke="#45e61c" stroke-width="4.2"/>
<rect x="994.9" y="576.1" width="15.8" height="15.8" fill="none" stroke="#45e61c" stroke-width="4.2"/>
<rect x="982.9" y="584.1" width="15.8" height="15.8" fill="none" stroke="#45e61c" stroke-width="4.2"/>
<rect x="987.9" y="584.1" width="15.8" height="15.8" fill="none" stroke="#45e61c" stroke-width="4.2"/>
<rect x="993.9" y="584.1" width="15.8" height="15.8" fill="none" stroke="#45e61c" stroke-width="4.2"/>
<rect x="998.9" y="584.1" width="15.8" height="15.8" fill="none" stroke="#45e61c" stroke-width="4.2"/>
<rect x="980.9" y="588.1" width="15.8" height="15.8" fill="none" stroke="#45e61c" stroke-width="4.2"/>
<rect x="990.9" y="588.1" width="15.8" height="15.8" fill="none" stroke="#45e61c" stroke-width="4.2"/>
<rect x="1000.9" y="588.1" width="15.8" height="15.8" fill="none" stroke="#45e61c" stroke-width="4.2"/>
<rect x="977.9" y="592.1" width="15.8" height="15.8" fill="none" stroke="#45e61c" stroke-width="4.2"/>
<rect x="984.9" y="592.1" width="15.8" height="15.8" fill="none" stroke="#45e61c" stroke-width="4.2"/>
<rect x="990.9" y="592.1" width="15.8" height="15.8" fill="none" stroke="#45e61c" stroke-width="4.2"/>
<rect x="996.9" y="592.1" width="15.8" height="15.8" fill="none" stroke="#45e61c" stroke-width="4.2"/>
<rect x="1003.9" y="592.1" width="15.8" height="15.8" fill="none" stroke="#45e61c" stroke-width="4.2"/>
<rect x="978.9" y="596.1" width="15.8" height="15.8" fill="none" stroke="#45e61c" stroke-width="4.2"/>
<rect x="986.9" y="596.1" width="15.8" height="15.8" fill="none" stroke="#45e61c" stroke-width="4.2"/>
<rect x="994.9" y="596.1" width="15.8" height="15.8" fill="none" stroke="#45e61c" stroke-width="4.2"/>
<rect x="1002.9" y="596.1" width="15.8" height="15.8" fill="none" stroke="#45e61c" stroke-width="4.2"/>
<rect x="980.9" y="600.1" width="15.8" height="15.8" fill="none" stroke="#45e61c" stroke-width="4.2"/>
<rect x="987.9" y="600.1" width="15.8" height="15.8" fill="none" stroke="#45e61c" stroke-width="4.2"/>
<rect x="993.9" y="600.1" width="15.8" height="15.8" fill="none" stroke="#45e61c" stroke-width="4.2"/>
<rect x="1000.9" y="600.1" width="15.8" height="15.8" fill="none" stroke="#45e61c" stroke-width="4.2"/>
<rect x="983.9" y="604.1" width="15.8" height="15.8" fill="none" stroke="#45e61c" stroke-width="4.2"/>
<rect x="990.9" y="604.1" width="15.8" height="15.8" fill="none" stroke="#45e61c" stroke-width="4.2"/>
<rect x="997.9" y="604.1" width="15.8" height="15.8" fill="none" stroke="#45e61c" stroke-width="4.2"/>
<rect x="984.9" y="608.1" width="15.8" height="15.8" fill="none" stroke="#45e61c" stroke-width="4.2"/>
<rect x="996.9" y="608.1" width="15.8" height="15.8" fill="none" stroke="#45e61c" stroke-width="4.2"/>
<rect x="986.9" y="615.1" width="15.8" height="15.8" fill="none" stroke="#45e61c" stroke-width="4.2"/>
<rect x="994.9" y="615.1" width="15.8" height="15.8" fill="none" stroke="#45e61c" stroke-width="4.2"/>
<rect x="983.9" y="621.1" width="15.8" height="15.8" fill="none" stroke="#45e61c" stroke-width="4.2"/>
<rect x="997.9" y="621.1" width="15.8" height="15.8" fill="none" stroke="#45e61c" stroke-width="4.2"/>
<rect x="990.9" y="637.4" width="15.8" height="15.8" fill="none" stroke="#45e61c" stroke-width="4.2"/>
<line x1="1179.8" y1="305.25" x2="1179.8" y2="730" stroke="#000" stroke-width="4"/>
<line x1="1161.8" y1="307.25" x2="1179.8" y2="307.25" stroke="#000" stroke-width="4"/>
<line x1="1161.8" y1="367.2" x2="1179.8" y2="367.2" stroke="#000" stroke-width="4"/>
<line x1="1161.8" y1="427.15" x2="1179.8" y2="427.15" stroke="#000" stroke-width="4"/>
<line x1="1161.8" y1="487.1" x2="1179.8" y2="487.1" stroke="#000" stroke-width="4"/>
<line x1="1161.8" y1="547.05" x2="1179.8" y2="547.05" stroke="#000" stroke-width="4"/>
<line x1="1161.8" y1="607" x2="1179.8" y2="607" stroke="#000" stroke-width="4"/>
<line x1="1161.8" y1="666.95" x2="1179.8" y2="666.95" stroke="#000" stroke-width="4"/>
<line x1="1161.8" y1="728" x2="1179.8" y2="728" stroke="#000" stroke-width="4"/>
<text transform="translate(1157.8 317.25) scale(0.91 1)" font-size="35.2" text-anchor="end">6.0</text>
<text transform="translate(1157.8 377.2) scale(0.91 1)" font-size="35.2" text-anchor="end">5.5</text>
<text transform="translate(1157.8 437.15) scale(0.91 1)" font-size="35.2" text-anchor="end">5.0</text>
<text transform="translate(1157.8 497.1) scale(0.91 1)" font-size="35.2" text-anchor="end">4.5</text>
<text transform="translate(1157.8 557.05) scale(0.91 1)" font-size="35.2" text-anchor="end">4.0</text>
<text transform="translate(1157.8 617) scale(0.91 1)" font-size="35.2" text-anchor="end">3.5</text>
<text transform="translate(1157.8 676.95) scale(0.91 1)" font-size="35.2" text-anchor="end">3.0</text>
<text transform="translate(1157.8 736.9) scale(0.91 1)" font-size="35.2" text-anchor="end">2.5</text>
<line x1="1177.8" y1="728" x2="1462.7" y2="728" stroke="#000" stroke-width="4"/>
<line x1="1222.5" y1="728" x2="1222.5" y2="745.4" stroke="#000" stroke-width="4"/>
<line x1="1287.2" y1="728" x2="1287.2" y2="745.4" stroke="#000" stroke-width="4"/>
<line x1="1351.9" y1="728" x2="1351.9" y2="745.4" stroke="#000" stroke-width="4"/>
<line x1="1416.6" y1="728" x2="1416.6" y2="745.4" stroke="#000" stroke-width="4"/>
<text transform="translate(1085 517) rotate(-90) scale(1.07 1)" font-size="33" text-anchor="middle">logSD<tspan font-size="21" dy="7">50</tspan><tspan dy="-7">/mg tissue</tspan></text>
<line x1="1177.4" y1="488.2" x2="1459" y2="488.2" stroke="#000" stroke-width="3.5" stroke-dasharray="11.7 10 3.4 8.3 3.4 10.1"/>
<line x1="1192.6" y1="704.1" x2="1460" y2="704.1" stroke="#000" stroke-width="4.3" stroke-dasharray="0 12.6" stroke-linecap="round"/>
<text x="1463" y="499.8" font-size="34">MV2</text>
<text x="1461" y="713.2" font-size="34">FFI</text>
<text transform="translate(1500 795.7) rotate(-90)" font-size="34.9" text-anchor="middle">Inocula:</text>
<text transform="translate(1232.2 773.3) rotate(-45)" font-size="30.8" text-anchor="end">100 dpi</text>
<text transform="translate(1296.9 773.3) rotate(-45)" font-size="30.8" text-anchor="end">180 dpi</text>
<text transform="translate(1361.6 773.3) rotate(-45)" font-size="30.8" text-anchor="end">100 dpi</text>
<text transform="translate(1426.3 773.3) rotate(-45)" font-size="30.8" text-anchor="end">180 dpi</text>
<line x1="1164" y1="848.9" x2="1249" y2="848.9" stroke="#000" stroke-width="3.5"/>
<line x1="1290" y1="848.9" x2="1375" y2="848.9" stroke="#000" stroke-width="3.5"/>
<text transform="translate(1205 887.5) scale(0.97 1)" font-size="36" text-anchor="middle">MV2</text>
<text transform="translate(1330.8 887.5) scale(0.97 1)" font-size="36" text-anchor="middle">FFI</text>
<path d="M1222.8 582V288.2H1287.5V312" fill="none" stroke="#000" stroke-width="3.8" stroke-linejoin="miter"/>
<path d="M1351.9 580V288.2H1416.5V435.7" fill="none" stroke="#000" stroke-width="3.8" stroke-linejoin="miter"/>
<text x="1232.67" y="279.43" font-size="38.5" class="st" letter-spacing="6.95">**</text>
<text x="1361.57" y="279.43" font-size="38.5" class="st" letter-spacing="6.95">**</text>
<line x1="1202" y1="606" x2="1244" y2="606" stroke="#000" stroke-width="5"/>
<polygon points="1201.8,602 1217.8,602 1209.8,615" fill="#000"/>
<polygon points="1210.47,602 1226.47,602 1218.47,615" fill="#000"/>
<polygon points="1219.13,602 1235.13,602 1227.13,615" fill="#000"/>
<polygon points="1227.8,602 1243.8,602 1235.8,615" fill="#000"/>
<path d="M1287.5 364.9V550M1277 364.9H1298M1277 550H1298" stroke="#000" stroke-width="1.4" fill="none"/>
<line x1="1266.2" y1="457.8" x2="1308.2" y2="457.8" stroke="#000" stroke-width="3.6"/>
<polygon points="1281.29,331.35 1293.71,331.35 1287.5,343.43" fill="none" stroke="#000" stroke-width="3.4" stroke-linejoin="miter"/>
<polygon points="1266.09,421.35 1278.51,421.35 1272.3,433.43" fill="none" stroke="#000" stroke-width="3.4" stroke-linejoin="miter"/>
<polygon points="1296.79,421.35 1309.21,421.35 1303,433.43" fill="none" stroke="#000" stroke-width="3.4" stroke-linejoin="miter"/>
<polygon points="1281.29,510.95 1293.71,510.95 1287.5,523.03" fill="none" stroke="#000" stroke-width="3.4" stroke-linejoin="miter"/>
<polygon points="1281.29,571.55 1293.71,571.55 1287.5,583.63" fill="none" stroke="#000" stroke-width="3.4" stroke-linejoin="miter"/>
<rect x="1329.6" y="600.8" width="14.4" height="14.4" fill="#000"/>
<rect x="1337.1" y="600.8" width="14.4" height="14.4" fill="#000"/>
<rect x="1344.6" y="600.8" width="14.4" height="14.4" fill="#000"/>
<rect x="1352.1" y="600.8" width="14.4" height="14.4" fill="#000"/>
<rect x="1359.6" y="600.8" width="14.4" height="14.4" fill="#000"/>
<path d="M1416.3 469.9V565.5M1405.8 469.9H1426.8M1405.8 565.5H1426.8" stroke="#000" stroke-width="1.4" fill="none"/>
<line x1="1394.8" y1="518.5" x2="1436.8" y2="518.5" stroke="#000" stroke-width="3.6"/>
<rect x="1409.6" y="451.2" width="13.2" height="13.2" fill="none" stroke="#000" stroke-width="3.3"/>
<rect x="1409.6" y="481.7" width="13.2" height="13.2" fill="none" stroke="#000" stroke-width="3.3"/>
<rect x="1409.6" y="511.9" width="13.2" height="13.2" fill="none" stroke="#000" stroke-width="3.3"/>
<rect x="1409.6" y="541.3" width="13.2" height="13.2" fill="none" stroke="#000" stroke-width="3.3"/>
<rect x="1409.6" y="571.5" width="13.2" height="13.2" fill="none" stroke="#000" stroke-width="3.3"/>
<line x1="211.5" y1="1212.8" x2="211.5" y2="1636.8" stroke="#000" stroke-width="4"/>
<line x1="193.5" y1="1214.8" x2="211.5" y2="1214.8" stroke="#000" stroke-width="4"/>
<text transform="translate(189.5 1224.8) scale(0.91 1)" font-size="35.2" text-anchor="end">0.25</text>
<line x1="193.5" y1="1298.8" x2="211.5" y2="1298.8" stroke="#000" stroke-width="4"/>
<text transform="translate(189.5 1308.8) scale(0.91 1)" font-size="35.2" text-anchor="end">0.20</text>
<line x1="193.5" y1="1382.8" x2="211.5" y2="1382.8" stroke="#000" stroke-width="4"/>
<text transform="translate(189.5 1392.8) scale(0.91 1)" font-size="35.2" text-anchor="end">0.15</text>
<line x1="193.5" y1="1466.8" x2="211.5" y2="1466.8" stroke="#000" stroke-width="4"/>
<text transform="translate(189.5 1476.8) scale(0.91 1)" font-size="35.2" text-anchor="end">0.10</text>
<line x1="193.5" y1="1550.8" x2="211.5" y2="1550.8" stroke="#000" stroke-width="4"/>
<text transform="translate(189.5 1560.8) scale(0.91 1)" font-size="35.2" text-anchor="end">0.05</text>
<line x1="193.5" y1="1634.8" x2="211.5" y2="1634.8" stroke="#000" stroke-width="4"/>
<text transform="translate(189.5 1644.8) scale(0.91 1)" font-size="35.2" text-anchor="end">0.00</text>
<line x1="209.5" y1="1634.8" x2="719" y2="1634.8" stroke="#000" stroke-width="4"/>
<line x1="251.5" y1="1634.8" x2="251.5" y2="1652.8" stroke="#000" stroke-width="4"/>
<line x1="312" y1="1634.8" x2="312" y2="1652.8" stroke="#000" stroke-width="4"/>
<line x1="372.5" y1="1634.8" x2="372.5" y2="1652.8" stroke="#000" stroke-width="4"/>
<line x1="433" y1="1634.8" x2="433" y2="1652.8" stroke="#000" stroke-width="4"/>
<line x1="493.5" y1="1634.8" x2="493.5" y2="1652.8" stroke="#000" stroke-width="4"/>
<line x1="554" y1="1634.8" x2="554" y2="1652.8" stroke="#000" stroke-width="4"/>
<line x1="614.5" y1="1634.8" x2="614.5" y2="1652.8" stroke="#000" stroke-width="4"/>
<line x1="675" y1="1634.8" x2="675" y2="1652.8" stroke="#000" stroke-width="4"/>
<line x1="224.8" y1="1592.8" x2="717" y2="1592.8" stroke="#000" stroke-width="4" stroke-dasharray="0 12.6" stroke-linecap="round"/>
<line x1="763.6" y1="1213.2" x2="763.6" y2="1637.2" stroke="#000" stroke-width="4"/>
<line x1="745.6" y1="1215.2" x2="763.6" y2="1215.2" stroke="#000" stroke-width="4"/>
<line x1="745.6" y1="1299.2" x2="763.6" y2="1299.2" stroke="#000" stroke-width="4"/>
<line x1="745.6" y1="1383.2" x2="763.6" y2="1383.2" stroke="#000" stroke-width="4"/>
<line x1="745.6" y1="1467.2" x2="763.6" y2="1467.2" stroke="#000" stroke-width="4"/>
<line x1="745.6" y1="1551.2" x2="763.6" y2="1551.2" stroke="#000" stroke-width="4"/>
<line x1="745.6" y1="1635.2" x2="763.6" y2="1635.2" stroke="#000" stroke-width="4"/>
<line x1="745.3" y1="1635.2" x2="1044.8" y2="1635.2" stroke="#000" stroke-width="4"/>
<line x1="806" y1="1635.2" x2="806" y2="1653.2" stroke="#000" stroke-width="4"/>
<line x1="870.4" y1="1635.2" x2="870.4" y2="1653.2" stroke="#000" stroke-width="4"/>
<line x1="934.8" y1="1635.2" x2="934.8" y2="1653.2" stroke="#000" stroke-width="4"/>
<line x1="999.2" y1="1635.2" x2="999.2" y2="1653.2" stroke="#000" stroke-width="4"/>
<line x1="776" y1="1593" x2="1043" y2="1593" stroke="#000" stroke-width="4" stroke-dasharray="0 12.62" stroke-linecap="round"/>
<text transform="translate(107 1424.5) rotate(-90) scale(1.06 1)" font-size="33" text-anchor="middle">1/time to threshold (h<tspan font-size="27" dy="-14.5">-1</tspan><tspan dy="14.5">)</tspan></text>
<text transform="translate(261.2 1679.5) rotate(-45)" font-size="31.7" text-anchor="end">Ha90</text>
<text transform="translate(321.7 1679.5) rotate(-45)" font-size="31.7" text-anchor="end">BV</text>
<text transform="translate(382.2 1679.5) rotate(-45)" font-size="31.7" text-anchor="end">Ha90</text>
<text transform="translate(442.7 1679.5) rotate(-45)" font-size="31.7" text-anchor="end">BV</text>
<text transform="translate(503.2 1679.5) rotate(-45)" font-size="31.7" text-anchor="end">Ha90</text>
<text transform="translate(563.7 1679.5) rotate(-45)" font-size="31.7" text-anchor="end">BV</text>
<text transform="translate(624.2 1679.5) rotate(-45)" font-size="31.7" text-anchor="end">Ha90</text>
<text transform="translate(684.7 1679.5) rotate(-45)" font-size="31.7" text-anchor="end">BV</text>
<line x1="186.5" y1="1742.2" x2="287.5" y2="1742.2" stroke="#000" stroke-width="3.5"/>
<line x1="316.5" y1="1742.2" x2="417.5" y2="1742.2" stroke="#000" stroke-width="3.5"/>
<line x1="436.5" y1="1742.2" x2="537.5" y2="1742.2" stroke="#000" stroke-width="3.5"/>
<line x1="563.5" y1="1742.2" x2="664.5" y2="1742.2" stroke="#000" stroke-width="3.5"/>
<text transform="translate(236.5 1780.6) scale(0.97 1)" font-size="36" text-anchor="middle">NBH</text>
<text transform="translate(486.5 1780.6) scale(0.97 1)" font-size="36" text-anchor="middle">NBH</text>
<text transform="translate(365 1780.6) scale(0.93 1)" font-size="36" text-anchor="middle">MM1</text>
<text transform="translate(612.8 1780.6) scale(0.93 1)" font-size="36" text-anchor="middle">MM1</text>
<text transform="translate(305.2 1836.8) scale(0.97 1)" font-size="36" text-anchor="middle">100dpi</text>
<text transform="translate(550 1836.8) scale(0.97 1)" font-size="36" text-anchor="middle">180dpi</text>
<path d="M372.4 1317V1195.9H433.2V1414.9" fill="none" stroke="#000" stroke-width="4" stroke-linejoin="miter"/>
<path d="M614.5 1220.4V1195.9H675.1V1376" fill="none" stroke="#000" stroke-width="4" stroke-linejoin="miter"/>
<path d="M372.7 1131.5V1107.3H614.5V1131.5" fill="none" stroke="#000" stroke-width="4" stroke-linejoin="miter"/>
<path d="M433 1082V1017.4H675V1131.5" fill="none" stroke="#000" stroke-width="4" stroke-linejoin="miter"/>
<text x="355.48" y="1187.03" font-size="38.5" class="st" letter-spacing="6.95">****</text>
<text x="634.77" y="1187.03" font-size="38.5" class="st" letter-spacing="6.95">*</text>
<text x="492.7" y="1086.3" font-size="35" text-anchor="middle">ns</text>
<text x="532.27" y="1008.63" font-size="38.5" class="st" letter-spacing="6.95">**</text>
<circle cx="241.9" cy="1593.6" r="9.65" fill="#1f00ff"/>
<circle cx="244.67" cy="1593.6" r="9.65" fill="#1f00ff"/>
<circle cx="247.44" cy="1593.6" r="9.65" fill="#1f00ff"/>
<circle cx="250.21" cy="1593.6" r="9.65" fill="#1f00ff"/>
<circle cx="252.99" cy="1593.6" r="9.65" fill="#1f00ff"/>
<circle cx="255.76" cy="1593.6" r="9.65" fill="#1f00ff"/>
<circle cx="258.53" cy="1593.6" r="9.65" fill="#1f00ff"/>
<circle cx="261.3" cy="1593.6" r="9.65" fill="#1f00ff"/>
<circle cx="302.3" cy="1593.6" r="9.65" fill="#45e61c"/>
<circle cx="305.07" cy="1593.6" r="9.65" fill="#45e61c"/>
<circle cx="307.84" cy="1593.6" r="9.65" fill="#45e61c"/>
<circle cx="310.61" cy="1593.6" r="9.65" fill="#45e61c"/>
<circle cx="313.39" cy="1593.6" r="9.65" fill="#45e61c"/>
<circle cx="316.16" cy="1593.6" r="9.65" fill="#45e61c"/>
<circle cx="318.93" cy="1593.6" r="9.65" fill="#45e61c"/>
<circle cx="321.7" cy="1593.6" r="9.65" fill="#45e61c"/>
<path d="M372.3 1387.9V1487M362.3 1387.9H382.3M362.3 1487H382.3" stroke="#000" stroke-width="1.4" fill="none"/>
<line x1="352.5" y1="1437.9" x2="392.5" y2="1437.9" stroke="#000" stroke-width="4"/>
<polygon points="360.35,1352 378.85,1352 369.6,1334" fill="#1f00ff"/>
<polygon points="365.95,1352 384.45,1352 375.2,1334" fill="#1f00ff"/>
<polygon points="363.15,1385 381.65,1385 372.4,1367" fill="#1f00ff"/>
<polygon points="358.15,1410 376.65,1410 367.4,1392" fill="#1f00ff"/>
<polygon points="363.15,1410 381.65,1410 372.4,1392" fill="#1f00ff"/>
<polygon points="368.15,1410 386.65,1410 377.4,1392" fill="#1f00ff"/>
<polygon points="363.15,1432.5 381.65,1432.5 372.4,1414.5" fill="#1f00ff"/>
<polygon points="351.65,1449 370.15,1449 360.9,1431" fill="#1f00ff"/>
<polygon points="359.15,1449 377.65,1449 368.4,1431" fill="#1f00ff"/>
<polygon points="367.15,1449 385.65,1449 376.4,1431" fill="#1f00ff"/>
<polygon points="374.65,1449 393.15,1449 383.9,1431" fill="#1f00ff"/>
<polygon points="361.15,1465 379.65,1465 370.4,1447" fill="#1f00ff"/>
<polygon points="365.15,1465 383.65,1465 374.4,1447" fill="#1f00ff"/>
<polygon points="361.15,1488.5 379.65,1488.5 370.4,1470.5" fill="#1f00ff"/>
<polygon points="371.15,1488.5 389.65,1488.5 380.4,1470.5" fill="#1f00ff"/>
<polygon points="355.65,1498 374.15,1498 364.9,1480" fill="#1f00ff"/>
<polygon points="363.45,1506.5 381.95,1506.5 372.7,1488.5" fill="#1f00ff"/>
<polygon points="363.35,1537 381.85,1537 372.6,1519" fill="#1f00ff"/>
<path d="M433.2 1499V1575M423.2 1499H443.2M423.2 1575H443.2" stroke="#000" stroke-width="1.4" fill="none"/>
<line x1="413.2" y1="1537.1" x2="453.2" y2="1537.1" stroke="#000" stroke-width="4"/>
<polygon points="423.95,1449.3 442.45,1449.3 433.2,1431.3" fill="#45e61c"/>
<polygon points="423.95,1477 442.45,1477 433.2,1459" fill="#45e61c"/>
<polygon points="420.95,1507 439.45,1507 430.2,1489" fill="#45e61c"/>
<polygon points="426.95,1507 445.45,1507 436.2,1489" fill="#45e61c"/>
<polygon points="430.45,1522.5 448.95,1522.5 439.7,1504.5" fill="#45e61c"/>
<polygon points="420.95,1533 439.45,1533 430.2,1515" fill="#45e61c"/>
<polygon points="415.95,1549 434.45,1549 425.2,1531" fill="#45e61c"/>
<polygon points="423.95,1549 442.45,1549 433.2,1531" fill="#45e61c"/>
<polygon points="431.95,1549 450.45,1549 441.2,1531" fill="#45e61c"/>
<polygon points="414.45,1558 432.95,1558 423.7,1540" fill="#45e61c"/>
<polygon points="421.95,1558 440.45,1558 431.2,1540" fill="#45e61c"/>
<polygon points="429.95,1558 448.45,1558 439.2,1540" fill="#45e61c"/>
<polygon points="419.95,1567 438.45,1567 429.2,1549" fill="#45e61c"/>
<polygon points="427.95,1567 446.45,1567 437.2,1549" fill="#45e61c"/>
<polygon points="411.95,1576 430.45,1576 421.2,1558" fill="#45e61c"/>
<polygon points="419.95,1576 438.45,1576 429.2,1558" fill="#45e61c"/>
<polygon points="427.95,1576 446.45,1576 437.2,1558" fill="#45e61c"/>
<polygon points="435.95,1576 454.45,1576 445.2,1558" fill="#45e61c"/>
<polygon points="419.95,1587.5 438.45,1587.5 429.2,1569.5" fill="#45e61c"/>
<polygon points="428.95,1587.5 447.45,1587.5 438.2,1569.5" fill="#45e61c"/>
<polygon points="420.75,1602 439.25,1602 430,1584" fill="#45e61c"/>
<circle cx="482.3" cy="1593.5" r="8.7" fill="none" stroke="#1f00ff" stroke-width="3.6"/>
<circle cx="485.18" cy="1593.5" r="8.7" fill="none" stroke="#1f00ff" stroke-width="3.6"/>
<circle cx="488.05" cy="1593.5" r="8.7" fill="none" stroke="#1f00ff" stroke-width="3.6"/>
<circle cx="490.93" cy="1593.5" r="8.7" fill="none" stroke="#1f00ff" stroke-width="3.6"/>
<circle cx="493.8" cy="1593.5" r="8.7" fill="none" stroke="#1f00ff" stroke-width="3.6"/>
<circle cx="496.68" cy="1593.5" r="8.7" fill="none" stroke="#1f00ff" stroke-width="3.6"/>
<circle cx="499.55" cy="1593.5" r="8.7" fill="none" stroke="#1f00ff" stroke-width="3.6"/>
<circle cx="502.43" cy="1593.5" r="8.7" fill="none" stroke="#1f00ff" stroke-width="3.6"/>
<circle cx="505.3" cy="1593.5" r="8.7" fill="none" stroke="#1f00ff" stroke-width="3.6"/>
<circle cx="542.6" cy="1593.5" r="8.7" fill="none" stroke="#45e61c" stroke-width="3.6"/>
<circle cx="545.6" cy="1593.5" r="8.7" fill="none" stroke="#45e61c" stroke-width="3.6"/>
<circle cx="548.6" cy="1593.5" r="8.7" fill="none" stroke="#45e61c" stroke-width="3.6"/>
<circle cx="551.6" cy="1593.5" r="8.7" fill="none" stroke="#45e61c" stroke-width="3.6"/>
<circle cx="554.6" cy="1593.5" r="8.7" fill="none" stroke="#45e61c" stroke-width="3.6"/>
<circle cx="557.6" cy="1593.5" r="8.7" fill="none" stroke="#45e61c" stroke-width="3.6"/>
<circle cx="560.6" cy="1593.5" r="8.7" fill="none" stroke="#45e61c" stroke-width="3.6"/>
<circle cx="563.6" cy="1593.5" r="8.7" fill="none" stroke="#45e61c" stroke-width="3.6"/>
<circle cx="566.6" cy="1593.5" r="8.7" fill="none" stroke="#45e61c" stroke-width="3.6"/>
<circle cx="554" cy="1574.1" r="8.2" fill="none" stroke="#45e61c" stroke-width="3.6"/>
<path d="M614.5 1337.6V1500M604.5 1337.6H624.5M604.5 1500H624.5" stroke="#000" stroke-width="1.4" fill="none"/>
<line x1="594.5" y1="1419.1" x2="634.5" y2="1419.1" stroke="#000" stroke-width="4"/>
<polygon points="603.9,1253.9 619.1,1253.9 611.5,1238.7" fill="none" stroke="#1f00ff" stroke-width="4.2" stroke-linejoin="miter"/>
<polygon points="609.9,1253.9 625.1,1253.9 617.5,1238.7" fill="none" stroke="#1f00ff" stroke-width="4.2" stroke-linejoin="miter"/>
<polygon points="606.9,1310 622.1,1310 614.5,1294.8" fill="none" stroke="#1f00ff" stroke-width="4.2" stroke-linejoin="miter"/>
<polygon points="603.9,1384.1 619.1,1384.1 611.5,1368.9" fill="none" stroke="#1f00ff" stroke-width="4.2" stroke-linejoin="miter"/>
<polygon points="609.9,1384.1 625.1,1384.1 617.5,1368.9" fill="none" stroke="#1f00ff" stroke-width="4.2" stroke-linejoin="miter"/>
<polygon points="600.9,1409.9 616.1,1409.9 608.5,1394.7" fill="none" stroke="#1f00ff" stroke-width="4.2" stroke-linejoin="miter"/>
<polygon points="606.9,1409.9 622.1,1409.9 614.5,1394.7" fill="none" stroke="#1f00ff" stroke-width="4.2" stroke-linejoin="miter"/>
<polygon points="612.9,1409.9 628.1,1409.9 620.5,1394.7" fill="none" stroke="#1f00ff" stroke-width="4.2" stroke-linejoin="miter"/>
<polygon points="606.9,1432.4 622.1,1432.4 614.5,1417.2" fill="none" stroke="#1f00ff" stroke-width="4.2" stroke-linejoin="miter"/>
<polygon points="594.9,1449.4 610.1,1449.4 602.5,1434.2" fill="none" stroke="#1f00ff" stroke-width="4.2" stroke-linejoin="miter"/>
<polygon points="602.9,1449.4 618.1,1449.4 610.5,1434.2" fill="none" stroke="#1f00ff" stroke-width="4.2" stroke-linejoin="miter"/>
<polygon points="610.9,1449.4 626.1,1449.4 618.5,1434.2" fill="none" stroke="#1f00ff" stroke-width="4.2" stroke-linejoin="miter"/>
<polygon points="618.9,1449.4 634.1,1449.4 626.5,1434.2" fill="none" stroke="#1f00ff" stroke-width="4.2" stroke-linejoin="miter"/>
<polygon points="606.9,1476.9 622.1,1476.9 614.5,1461.7" fill="none" stroke="#1f00ff" stroke-width="4.2" stroke-linejoin="miter"/>
<polygon points="606.9,1497.9 622.1,1497.9 614.5,1482.7" fill="none" stroke="#1f00ff" stroke-width="4.2" stroke-linejoin="miter"/>
<polygon points="604.9,1505.9 620.1,1505.9 612.5,1490.7" fill="none" stroke="#1f00ff" stroke-width="4.2" stroke-linejoin="miter"/>
<polygon points="608.9,1505.9 624.1,1505.9 616.5,1490.7" fill="none" stroke="#1f00ff" stroke-width="4.2" stroke-linejoin="miter"/>
<polygon points="606.9,1526.9 622.1,1526.9 614.5,1511.7" fill="none" stroke="#1f00ff" stroke-width="4.2" stroke-linejoin="miter"/>
<polygon points="606.9,1549.9 622.1,1549.9 614.5,1534.7" fill="none" stroke="#1f00ff" stroke-width="4.2" stroke-linejoin="miter"/>
<path d="M675 1432.9V1505.6M665 1432.9H685M665 1505.6H685" stroke="#000" stroke-width="1.4" fill="none"/>
<line x1="655" y1="1468.6" x2="695" y2="1468.6" stroke="#000" stroke-width="4"/>
<polygon points="665.9,1409.9 681.1,1409.9 673.5,1394.7" fill="none" stroke="#45e61c" stroke-width="4.2" stroke-linejoin="miter"/>
<polygon points="668.9,1409.9 684.1,1409.9 676.5,1394.7" fill="none" stroke="#45e61c" stroke-width="4.2" stroke-linejoin="miter"/>
<polygon points="667.4,1432.4 682.6,1432.4 675,1417.2" fill="none" stroke="#45e61c" stroke-width="4.2" stroke-linejoin="miter"/>
<polygon points="667.4,1450.9 682.6,1450.9 675,1435.7" fill="none" stroke="#45e61c" stroke-width="4.2" stroke-linejoin="miter"/>
<polygon points="667.4,1467.9 682.6,1467.9 675,1452.7" fill="none" stroke="#45e61c" stroke-width="4.2" stroke-linejoin="miter"/>
<polygon points="655.4,1475.9 670.6,1475.9 663,1460.7" fill="none" stroke="#45e61c" stroke-width="4.2" stroke-linejoin="miter"/>
<polygon points="663.4,1475.9 678.6,1475.9 671,1460.7" fill="none" stroke="#45e61c" stroke-width="4.2" stroke-linejoin="miter"/>
<polygon points="671.4,1475.9 686.6,1475.9 679,1460.7" fill="none" stroke="#45e61c" stroke-width="4.2" stroke-linejoin="miter"/>
<polygon points="679.4,1475.9 694.6,1475.9 687,1460.7" fill="none" stroke="#45e61c" stroke-width="4.2" stroke-linejoin="miter"/>
<polygon points="661.4,1486.9 676.6,1486.9 669,1471.7" fill="none" stroke="#45e61c" stroke-width="4.2" stroke-linejoin="miter"/>
<polygon points="667.4,1486.9 682.6,1486.9 675,1471.7" fill="none" stroke="#45e61c" stroke-width="4.2" stroke-linejoin="miter"/>
<polygon points="673.4,1486.9 688.6,1486.9 681,1471.7" fill="none" stroke="#45e61c" stroke-width="4.2" stroke-linejoin="miter"/>
<polygon points="667.4,1497.9 682.6,1497.9 675,1482.7" fill="none" stroke="#45e61c" stroke-width="4.2" stroke-linejoin="miter"/>
<polygon points="665.4,1520.9 680.6,1520.9 673,1505.7" fill="none" stroke="#45e61c" stroke-width="4.2" stroke-linejoin="miter"/>
<polygon points="669.4,1520.9 684.6,1520.9 677,1505.7" fill="none" stroke="#45e61c" stroke-width="4.2" stroke-linejoin="miter"/>
<polygon points="667.4,1531.9 682.6,1531.9 675,1516.7" fill="none" stroke="#45e61c" stroke-width="4.2" stroke-linejoin="miter"/>
<polygon points="670.4,1531.9 685.6,1531.9 678,1516.7" fill="none" stroke="#45e61c" stroke-width="4.2" stroke-linejoin="miter"/>
<polygon points="664.4,1541.9 679.6,1541.9 672,1526.7" fill="none" stroke="#45e61c" stroke-width="4.2" stroke-linejoin="miter"/>
<polygon points="670.4,1541.9 685.6,1541.9 678,1526.7" fill="none" stroke="#45e61c" stroke-width="4.2" stroke-linejoin="miter"/>
<text transform="translate(815.7 1680.1) rotate(-45)" font-size="31.6" text-anchor="end">Ha90</text>
<text transform="translate(880.1 1680.1) rotate(-45)" font-size="31.6" text-anchor="end">BV</text>
<text transform="translate(944.5 1680.1) rotate(-45)" font-size="31.6" text-anchor="end">Ha90</text>
<text transform="translate(1008.9 1680.1) rotate(-45)" font-size="31.6" text-anchor="end">BV</text>
<line x1="768" y1="1743.4" x2="869.7" y2="1743.4" stroke="#000" stroke-width="3.5"/>
<line x1="899.3" y1="1743.4" x2="1000.3" y2="1743.4" stroke="#000" stroke-width="3.5"/>
<text transform="translate(818.9 1782.4) scale(0.97 1)" font-size="36" text-anchor="middle">100dpi</text>
<text transform="translate(949.5 1782.4) scale(0.97 1)" font-size="36" text-anchor="middle">180dpi</text>
<text transform="translate(883.5 1838.2) scale(0.93 1)" font-size="36" text-anchor="middle">FFI</text>
<path d="M806.2 1556.2V1294.4H870.6V1398.1" fill="none" stroke="#000" stroke-width="4" stroke-linejoin="miter"/>
<path d="M934.7 1547.7V1294.4H998.6V1318.7" fill="none" stroke="#000" stroke-width="4" stroke-linejoin="miter"/>
<path d="M806.2 1229V1205.7H934.7V1229" fill="none" stroke="#000" stroke-width="4" stroke-linejoin="miter"/>
<path d="M870.6 1141V1116.3H998.6V1229" fill="none" stroke="#000" stroke-width="4" stroke-linejoin="miter"/>
<text x="791.78" y="1285.23" font-size="38.5" class="st" letter-spacing="6.95">****</text>
<text x="919.58" y="1285.23" font-size="38.5" class="st" letter-spacing="6.95">****</text>
<text x="869.7" y="1183.3" font-size="35" text-anchor="middle">ns</text>
<text x="924.77" y="1107.43" font-size="38.5" class="st" letter-spacing="6.95">*</text>
<rect x="783.8" y="1585.4" width="18.4" height="18.4" fill="#1f00ff"/>
<rect x="788.2" y="1585.4" width="18.4" height="18.4" fill="#1f00ff"/>
<rect x="792.6" y="1585.4" width="18.4" height="18.4" fill="#1f00ff"/>
<rect x="797" y="1585.4" width="18.4" height="18.4" fill="#1f00ff"/>
<rect x="801.4" y="1585.4" width="18.4" height="18.4" fill="#1f00ff"/>
<rect x="805.8" y="1585.4" width="18.4" height="18.4" fill="#1f00ff"/>
<rect x="810.2" y="1585.4" width="18.4" height="18.4" fill="#1f00ff"/>
<rect x="808.8" y="1572.7" width="18" height="18" fill="#1f00ff"/>
<line x1="849.5" y1="1523" x2="891.5" y2="1523" stroke="#000" stroke-width="4"/>
<rect x="861.15" y="1414.15" width="18.5" height="18.5" fill="#45e61c"/>
<rect x="861.15" y="1422.75" width="18.5" height="18.5" fill="#45e61c"/>
<rect x="861.15" y="1431.75" width="18.5" height="18.5" fill="#45e61c"/>
<rect x="848.15" y="1480.25" width="18.5" height="18.5" fill="#45e61c"/>
<rect x="861.15" y="1480.25" width="18.5" height="18.5" fill="#45e61c"/>
<rect x="874.15" y="1480.25" width="18.5" height="18.5" fill="#45e61c"/>
<rect x="854.65" y="1497.75" width="18.5" height="18.5" fill="#45e61c"/>
<rect x="865.15" y="1497.75" width="18.5" height="18.5" fill="#45e61c"/>
<rect x="874.15" y="1497.75" width="18.5" height="18.5" fill="#45e61c"/>
<rect x="848.15" y="1514.75" width="18.5" height="18.5" fill="#45e61c"/>
<rect x="861.15" y="1514.75" width="18.5" height="18.5" fill="#45e61c"/>
<rect x="874.15" y="1514.75" width="18.5" height="18.5" fill="#45e61c"/>
<rect x="848.15" y="1519.75" width="18.5" height="18.5" fill="#45e61c"/>
<rect x="865.15" y="1519.75" width="18.5" height="18.5" fill="#45e61c"/>
<rect x="874.15" y="1519.75" width="18.5" height="18.5" fill="#45e61c"/>
<rect x="861.15" y="1533.75" width="18.5" height="18.5" fill="#45e61c"/>
<rect x="867.15" y="1533.75" width="18.5" height="18.5" fill="#45e61c"/>
<rect x="854.15" y="1550.75" width="18.5" height="18.5" fill="#45e61c"/>
<rect x="865.15" y="1550.75" width="18.5" height="18.5" fill="#45e61c"/>
<rect x="874.15" y="1550.75" width="18.5" height="18.5" fill="#45e61c"/>
<rect x="848.15" y="1565.25" width="18.5" height="18.5" fill="#45e61c"/>
<rect x="858.15" y="1565.25" width="18.5" height="18.5" fill="#45e61c"/>
<rect x="867.15" y="1565.25" width="18.5" height="18.5" fill="#45e61c"/>
<rect x="874.35" y="1570.25" width="18.5" height="18.5" fill="#45e61c"/>
<rect x="912.8" y="1586.1" width="17.8" height="17.8" fill="none" stroke="#1f00ff" stroke-width="4.2"/>
<rect x="916.05" y="1586.1" width="17.8" height="17.8" fill="none" stroke="#1f00ff" stroke-width="4.2"/>
<rect x="919.3" y="1586.1" width="17.8" height="17.8" fill="none" stroke="#1f00ff" stroke-width="4.2"/>
<rect x="922.55" y="1586.1" width="17.8" height="17.8" fill="none" stroke="#1f00ff" stroke-width="4.2"/>
<rect x="925.8" y="1586.1" width="17.8" height="17.8" fill="none" stroke="#1f00ff" stroke-width="4.2"/>
<rect x="929.05" y="1586.1" width="17.8" height="17.8" fill="none" stroke="#1f00ff" stroke-width="4.2"/>
<rect x="932.3" y="1586.1" width="17.8" height="17.8" fill="none" stroke="#1f00ff" stroke-width="4.2"/>
<rect x="935.55" y="1586.1" width="17.8" height="17.8" fill="none" stroke="#1f00ff" stroke-width="4.2"/>
<rect x="938.8" y="1586.1" width="17.8" height="17.8" fill="none" stroke="#1f00ff" stroke-width="4.2"/>
<rect x="926.2" y="1565.2" width="16.6" height="16.6" fill="none" stroke="#1f00ff" stroke-width="5"/>
<rect x="926.2" y="1567.2" width="16.6" height="16.6" fill="none" stroke="#1f00ff" stroke-width="5"/>
<line x1="977.2" y1="1408.7" x2="1020.2" y2="1408.7" stroke="#000" stroke-width="4"/>
<rect x="983.6" y="1335.1" width="16.8" height="16.8" fill="none" stroke="#45e61c" stroke-width="4.2"/>
<rect x="990.4" y="1335.1" width="16.8" height="16.8" fill="none" stroke="#45e61c" stroke-width="4.2"/>
<rect x="997.2" y="1335.1" width="16.8" height="16.8" fill="none" stroke="#45e61c" stroke-width="4.2"/>
<rect x="977.4" y="1367.6" width="16.8" height="16.8" fill="none" stroke="#45e61c" stroke-width="4.2"/>
<rect x="983.9" y="1367.6" width="16.8" height="16.8" fill="none" stroke="#45e61c" stroke-width="4.2"/>
<rect x="987.9" y="1367.6" width="16.8" height="16.8" fill="none" stroke="#45e61c" stroke-width="4.2"/>
<rect x="990.4" y="1367.6" width="16.8" height="16.8" fill="none" stroke="#45e61c" stroke-width="4.2"/>
<rect x="992.9" y="1367.6" width="16.8" height="16.8" fill="none" stroke="#45e61c" stroke-width="4.2"/>
<rect x="996.9" y="1367.6" width="16.8" height="16.8" fill="none" stroke="#45e61c" stroke-width="4.2"/>
<rect x="1003.4" y="1367.6" width="16.8" height="16.8" fill="none" stroke="#45e61c" stroke-width="4.2"/>
<rect x="987.1" y="1393.6" width="16.8" height="16.8" fill="none" stroke="#45e61c" stroke-width="4.2"/>
<rect x="993.7" y="1393.6" width="16.8" height="16.8" fill="none" stroke="#45e61c" stroke-width="4.2"/>
<rect x="983.6" y="1414.6" width="16.8" height="16.8" fill="none" stroke="#45e61c" stroke-width="4.2"/>
<rect x="990.4" y="1414.6" width="16.8" height="16.8" fill="none" stroke="#45e61c" stroke-width="4.2"/>
<rect x="997.2" y="1414.6" width="16.8" height="16.8" fill="none" stroke="#45e61c" stroke-width="4.2"/>
<rect x="983.6" y="1433.1" width="16.8" height="16.8" fill="none" stroke="#45e61c" stroke-width="4.2"/>
<rect x="990.4" y="1433.1" width="16.8" height="16.8" fill="none" stroke="#45e61c" stroke-width="4.2"/>
<rect x="997.2" y="1433.1" width="16.8" height="16.8" fill="none" stroke="#45e61c" stroke-width="4.2"/>
<rect x="977.6" y="1447.6" width="16.8" height="16.8" fill="none" stroke="#45e61c" stroke-width="4.2"/>
<rect x="990.4" y="1447.6" width="16.8" height="16.8" fill="none" stroke="#45e61c" stroke-width="4.2"/>
<rect x="1003.2" y="1447.6" width="16.8" height="16.8" fill="none" stroke="#45e61c" stroke-width="4.2"/>
<rect x="990.4" y="1463.1" width="16.8" height="16.8" fill="none" stroke="#45e61c" stroke-width="4.2"/>
<rect x="990.4" y="1480.6" width="16.8" height="16.8" fill="none" stroke="#45e61c" stroke-width="4.2"/>
<line x1="1179.8" y1="1212.5" x2="1179.8" y2="1637.05" stroke="#000" stroke-width="4"/>
<line x1="1161.8" y1="1214.5" x2="1179.8" y2="1214.5" stroke="#000" stroke-width="4"/>
<line x1="1161.8" y1="1274.5" x2="1179.8" y2="1274.5" stroke="#000" stroke-width="4"/>
<line x1="1161.8" y1="1334.5" x2="1179.8" y2="1334.5" stroke="#000" stroke-width="4"/>
<line x1="1161.8" y1="1394.5" x2="1179.8" y2="1394.5" stroke="#000" stroke-width="4"/>
<line x1="1161.8" y1="1454.5" x2="1179.8" y2="1454.5" stroke="#000" stroke-width="4"/>
<line x1="1161.8" y1="1514.5" x2="1179.8" y2="1514.5" stroke="#000" stroke-width="4"/>
<line x1="1161.8" y1="1574.5" x2="1179.8" y2="1574.5" stroke="#000" stroke-width="4"/>
<line x1="1161.8" y1="1635.05" x2="1179.8" y2="1635.05" stroke="#000" stroke-width="4"/>
<text transform="translate(1157.1 1224.5) scale(0.93 1)" font-size="35.2" text-anchor="end">6.0</text>
<text transform="translate(1157.1 1284.5) scale(0.93 1)" font-size="35.2" text-anchor="end">5.5</text>
<text transform="translate(1157.1 1344.5) scale(0.93 1)" font-size="35.2" text-anchor="end">5.0</text>
<text transform="translate(1157.1 1404.5) scale(0.93 1)" font-size="35.2" text-anchor="end">4.5</text>
<text transform="translate(1157.1 1464.5) scale(0.93 1)" font-size="35.2" text-anchor="end">4.0</text>
<text transform="translate(1157.1 1524.5) scale(0.93 1)" font-size="35.2" text-anchor="end">3.5</text>
<text transform="translate(1157.1 1584.5) scale(0.93 1)" font-size="35.2" text-anchor="end">3.0</text>
<text transform="translate(1157.1 1644.5) scale(0.93 1)" font-size="35.2" text-anchor="end">2.5</text>
<line x1="1177.8" y1="1635.05" x2="1462.7" y2="1635.05" stroke="#000" stroke-width="4"/>
<line x1="1222.5" y1="1635.05" x2="1222.5" y2="1652.45" stroke="#000" stroke-width="4"/>
<line x1="1287.2" y1="1635.05" x2="1287.2" y2="1652.45" stroke="#000" stroke-width="4"/>
<line x1="1351.9" y1="1635.05" x2="1351.9" y2="1652.45" stroke="#000" stroke-width="4"/>
<line x1="1416.6" y1="1635.05" x2="1416.6" y2="1652.45" stroke="#000" stroke-width="4"/>
<text transform="translate(1085 1424.5) rotate(-90) scale(1.07 1)" font-size="33" text-anchor="middle">logSD<tspan font-size="21" dy="7">50</tspan><tspan dy="-7">/mg tissue</tspan></text>
<line x1="1178.7" y1="1425" x2="1459" y2="1425" stroke="#000" stroke-width="3.5" stroke-dasharray="11.7 9 3.4 9.1"/>
<line x1="1192.1" y1="1611.4" x2="1460" y2="1611.4" stroke="#000" stroke-width="4.3" stroke-dasharray="0 12.6" stroke-linecap="round"/>
<text x="1469.6" y="1436" font-size="33">MM1</text>
<text x="1468.2" y="1620.5" font-size="34">FFI</text>
<text transform="translate(1490 1704.3) rotate(-90)" font-size="34.9" text-anchor="middle">Inocula:</text>
<text transform="translate(1232.2 1681.7) rotate(-45)" font-size="30.8" text-anchor="end">100 dpi</text>
<text transform="translate(1296.9 1681.7) rotate(-45)" font-size="30.8" text-anchor="end">180 dpi</text>
<text transform="translate(1361.6 1681.7) rotate(-45)" font-size="30.8" text-anchor="end">100 dpi</text>
<text transform="translate(1426.3 1681.7) rotate(-45)" font-size="30.8" text-anchor="end">180 dpi</text>
<line x1="1163.3" y1="1757.8" x2="1247" y2="1757.8" stroke="#000" stroke-width="3.5"/>
<line x1="1290" y1="1757.8" x2="1374.3" y2="1757.8" stroke="#000" stroke-width="3.5"/>
<text transform="translate(1330.8 1796.3) scale(0.97 1)" font-size="36" text-anchor="middle">FFI</text>
<text transform="translate(1205.8 1796.3) scale(0.93 1)" font-size="36" text-anchor="middle">MM1</text>
<path d="M1222 1494V1231.5H1286.4V1405.8" fill="none" stroke="#000" stroke-width="3.8" stroke-linejoin="miter"/>
<path d="M1350.5 1494V1231.5H1415.2V1257.5" fill="none" stroke="#000" stroke-width="3.8" stroke-linejoin="miter"/>
<text x="1232.57" y="1223.53" font-size="38.5" class="st" letter-spacing="6.95">**</text>
<text x="1373.47" y="1223.53" font-size="38.5" class="st" letter-spacing="6.95">*</text>
<line x1="1201.1" y1="1519.5" x2="1244.1" y2="1519.5" stroke="#000" stroke-width="7"/>
<polygon points="1201.1,1523.05 1218.1,1523.05 1209.6,1506.55" fill="#000"/>
<polygon points="1207.6,1523.05 1224.6,1523.05 1216.1,1506.55" fill="#000"/>
<polygon points="1214.1,1523.05 1231.1,1523.05 1222.6,1506.55" fill="#000"/>
<polygon points="1220.6,1523.05 1237.6,1523.05 1229.1,1506.55" fill="#000"/>
<polygon points="1227.1,1523.05 1244.1,1523.05 1235.6,1506.55" fill="#000"/>
<path d="M1286.4 1432V1476M1275.9 1432H1296.9M1275.9 1476H1296.9" stroke="#000" stroke-width="1.4" fill="none"/>
<line x1="1266.4" y1="1463" x2="1306.4" y2="1463" stroke="#000" stroke-width="3.6"/>
<polygon points="1278.99,1431.65 1293.81,1431.65 1286.4,1418.6" fill="none" stroke="#000" stroke-width="3.6" stroke-linejoin="miter"/>
<polygon points="1265.39,1462.45 1280.21,1462.45 1272.8,1449.4" fill="none" stroke="#000" stroke-width="3.6" stroke-linejoin="miter"/>
<polygon points="1278.99,1462.45 1293.81,1462.45 1286.4,1449.4" fill="none" stroke="#000" stroke-width="3.6" stroke-linejoin="miter"/>
<polygon points="1292.89,1462.45 1307.71,1462.45 1300.3,1449.4" fill="none" stroke="#000" stroke-width="3.6" stroke-linejoin="miter"/>
<polygon points="1278.99,1493.45 1293.81,1493.45 1286.4,1480.4" fill="none" stroke="#000" stroke-width="3.6" stroke-linejoin="miter"/>
<rect x="1329.2" y="1506" width="18" height="18" fill="#000"/>
<rect x="1335.7" y="1506" width="18" height="18" fill="#000"/>
<rect x="1342.2" y="1506" width="18" height="18" fill="#000"/>
<rect x="1348.7" y="1506" width="18" height="18" fill="#000"/>
<rect x="1355.2" y="1506" width="18" height="18" fill="#000"/>
<path d="M1415.2 1343V1530.8M1404.7 1343H1425.7M1404.7 1530.8H1425.7" stroke="#000" stroke-width="1.4" fill="none"/>
<line x1="1393.7" y1="1437" x2="1436.7" y2="1437" stroke="#000" stroke-width="3.6"/>
<rect x="1406.85" y="1266.85" width="16.7" height="16.7" fill="none" stroke="#000" stroke-width="3.6"/>
<rect x="1393.45" y="1446.85" width="16.7" height="16.7" fill="none" stroke="#000" stroke-width="3.6"/>
<rect x="1421.65" y="1446.85" width="16.7" height="16.7" fill="none" stroke="#000" stroke-width="3.6"/>
<rect x="1406.85" y="1476.95" width="16.7" height="16.7" fill="none" stroke="#000" stroke-width="3.6"/>
<rect x="1406.85" y="1506.25" width="16.7" height="16.7" fill="none" stroke="#000" stroke-width="3.6"/>
<line x1="211.2" y1="2036.6" x2="211.2" y2="2392.8" stroke="#000" stroke-width="5.4"/>
<line x1="195.4" y1="2039.3" x2="211.2" y2="2039.3" stroke="#000" stroke-width="5.4"/>
<text x="192.2" y="2050.5" font-size="33.8" text-anchor="end">0.25</text>
<line x1="195.4" y1="2109.3" x2="211.2" y2="2109.3" stroke="#000" stroke-width="5.4"/>
<text x="192.2" y="2120.5" font-size="33.8" text-anchor="end">0.20</text>
<line x1="195.4" y1="2179.3" x2="211.2" y2="2179.3" stroke="#000" stroke-width="5.4"/>
<text x="192.2" y="2190.5" font-size="33.8" text-anchor="end">0.15</text>
<line x1="195.4" y1="2249.3" x2="211.2" y2="2249.3" stroke="#000" stroke-width="5.4"/>
<text x="192.2" y="2260.5" font-size="33.8" text-anchor="end">0.10</text>
<line x1="195.4" y1="2319.3" x2="211.2" y2="2319.3" stroke="#000" stroke-width="5.4"/>
<text x="192.2" y="2330.5" font-size="33.8" text-anchor="end">0.05</text>
<line x1="195.4" y1="2390.1" x2="211.2" y2="2390.1" stroke="#000" stroke-width="5.4"/>
<text x="192.2" y="2401.3" font-size="33.8" text-anchor="end">0.00</text>
<line x1="208.5" y1="2390.1" x2="629" y2="2390.1" stroke="#000" stroke-width="5.4"/>
<line x1="256.5" y1="2390.1" x2="256.5" y2="2406.1" stroke="#000" stroke-width="5.4"/>
<line x1="381.7" y1="2390.1" x2="381.7" y2="2406.1" stroke="#000" stroke-width="5.4"/>
<line x1="506.6" y1="2390.1" x2="506.6" y2="2406.1" stroke="#000" stroke-width="5.4"/>
<line x1="587.5" y1="2390.1" x2="587.5" y2="2406.1" stroke="#000" stroke-width="5.4"/>
<line x1="221.9" y1="2361.7" x2="627" y2="2361.7" stroke="#000" stroke-width="3.6" stroke-dasharray="0 10.56" stroke-linecap="round"/>
<text transform="translate(108.5 2207.5) rotate(-90) scale(1.05 1)" font-size="33" text-anchor="middle">1/time to threshold (h<tspan font-size="27" dy="-14.5">-1</tspan><tspan dy="14.5">)</tspan></text>
<text x="256.5" y="2440.2" font-size="34" text-anchor="middle">WT</text>
<text x="381.7" y="2440.2" font-size="34" text-anchor="middle">KO</text>
<text x="506.6" y="2440.2" font-size="34" text-anchor="middle">WT</text>
<text x="587.5" y="2440.2" font-size="34" text-anchor="middle">KO</text>
<path d="M263 2184.8V2142.2H388.5V2170.4" fill="none" stroke="#000" stroke-width="5.2" stroke-linejoin="miter"/>
<path d="M248.7 2112.6V2046.4H481.5V2057.7" fill="none" stroke="#000" stroke-width="5.2" stroke-linejoin="miter"/>
<path d="M499.8 2059V2046.4H588.3V2215.5" fill="none" stroke="#000" stroke-width="5.2" stroke-linejoin="miter"/>
<path d="M383 1989.5V1965H587.3V1989.5" fill="none" stroke="#000" stroke-width="5.2" stroke-linejoin="miter"/>
<text x="326.2" y="2124.6" font-size="34" text-anchor="middle">ns</text>
<text x="317.38" y="2039.23" font-size="39.5" class="sb" letter-spacing="6.15">****</text>
<text x="497.07" y="2038.23" font-size="39.5" class="sb" letter-spacing="6.15">****</text>
<text x="437.27" y="1956.93" font-size="39.5" class="sb" letter-spacing="6.15">****</text>
<path d="M224.3 2232.04V2361.67M222.05 2232.04H226.55M222.05 2361.67H226.55" stroke="#000" stroke-width="1.6" fill="none"/>
<line x1="219.95" y1="2300.56" x2="228.65" y2="2300.56" stroke="#000" stroke-width="3"/>
<path d="M237.2 2205.19V2302.41M234.95 2205.19H239.45M234.95 2302.41H239.45" stroke="#000" stroke-width="1.6" fill="none"/>
<line x1="232.85" y1="2252.78" x2="241.55" y2="2252.78" stroke="#000" stroke-width="3"/>
<path d="M250 2227.41V2288.52M247.75 2227.41H252.25M247.75 2288.52H252.25" stroke="#000" stroke-width="1.6" fill="none"/>
<line x1="245.65" y1="2254.81" x2="254.35" y2="2254.81" stroke="#000" stroke-width="3"/>
<path d="M263.1 2334.81V2361.67M260.85 2334.81H265.35M260.85 2361.67H265.35" stroke="#000" stroke-width="1.6" fill="none"/>
<line x1="258.75" y1="2353.33" x2="267.45" y2="2353.33" stroke="#000" stroke-width="3"/>
<path d="M276.1 2253.33V2295.93M273.85 2253.33H278.35M273.85 2295.93H278.35" stroke="#000" stroke-width="1.6" fill="none"/>
<line x1="271.75" y1="2274.63" x2="280.45" y2="2274.63" stroke="#000" stroke-width="3"/>
<path d="M289.1 2210.74V2308.89M286.85 2210.74H291.35M286.85 2308.89H291.35" stroke="#000" stroke-width="1.6" fill="none"/>
<line x1="284.75" y1="2257.96" x2="293.45" y2="2257.96" stroke="#000" stroke-width="3"/>
<path d="M310.7 2187.59V2268.15M308.45 2187.59H312.95M308.45 2268.15H312.95" stroke="#000" stroke-width="1.6" fill="none"/>
<line x1="306.35" y1="2232.96" x2="315.05" y2="2232.96" stroke="#000" stroke-width="3"/>
<path d="M323.5 2249.63V2311.67M321.25 2249.63H325.75M321.25 2311.67H325.75" stroke="#000" stroke-width="1.6" fill="none"/>
<line x1="319.15" y1="2278.33" x2="327.85" y2="2278.33" stroke="#000" stroke-width="3"/>
<path d="M336.7 2237.59V2351.48M334.45 2237.59H338.95M334.45 2351.48H338.95" stroke="#000" stroke-width="1.6" fill="none"/>
<line x1="332.35" y1="2292.59" x2="341.05" y2="2292.59" stroke="#000" stroke-width="3"/>
<path d="M349.6 2218.7V2303.33M347.35 2218.7H351.85M347.35 2303.33H351.85" stroke="#000" stroke-width="1.6" fill="none"/>
<line x1="345.25" y1="2260.74" x2="353.95" y2="2260.74" stroke="#000" stroke-width="3"/>
<path d="M362.4 2207.04V2262.59M360.15 2207.04H364.65M360.15 2262.59H364.65" stroke="#000" stroke-width="1.6" fill="none"/>
<line x1="358.05" y1="2235.37" x2="366.75" y2="2235.37" stroke="#000" stroke-width="3"/>
<path d="M375.4 2200.56V2262.59M373.15 2200.56H377.65M373.15 2262.59H377.65" stroke="#000" stroke-width="1.6" fill="none"/>
<line x1="371.05" y1="2231.11" x2="379.75" y2="2231.11" stroke="#000" stroke-width="3"/>
<path d="M388.5 2263.52V2316.3M386.25 2263.52H390.75M386.25 2316.3H390.75" stroke="#000" stroke-width="1.6" fill="none"/>
<line x1="384.15" y1="2288.15" x2="392.85" y2="2288.15" stroke="#000" stroke-width="3"/>
<path d="M401.5 2251.11V2323.7M399.25 2251.11H403.75M399.25 2323.7H403.75" stroke="#000" stroke-width="1.6" fill="none"/>
<line x1="397.15" y1="2287.59" x2="405.85" y2="2287.59" stroke="#000" stroke-width="3"/>
<path d="M414.4 2199.26V2286.67M412.15 2199.26H416.65M412.15 2286.67H416.65" stroke="#000" stroke-width="1.6" fill="none"/>
<line x1="410.05" y1="2242.22" x2="418.75" y2="2242.22" stroke="#000" stroke-width="3"/>
<path d="M427.4 2211.67V2333.52M425.15 2211.67H429.65M425.15 2333.52H429.65" stroke="#000" stroke-width="1.6" fill="none"/>
<line x1="423.05" y1="2273.7" x2="431.75" y2="2273.7" stroke="#000" stroke-width="3"/>
<path d="M440.4 2199.26V2297.78M438.15 2199.26H442.65M438.15 2297.78H442.65" stroke="#000" stroke-width="1.6" fill="none"/>
<line x1="436.05" y1="2250.19" x2="444.75" y2="2250.19" stroke="#000" stroke-width="3"/>
<path d="M453.3 2230.19V2308.89M451.05 2230.19H455.55M451.05 2308.89H455.55" stroke="#000" stroke-width="1.6" fill="none"/>
<line x1="448.95" y1="2269.63" x2="457.65" y2="2269.63" stroke="#000" stroke-width="3"/>
<circle cx="224.3" cy="2221.85" r="5.4" fill="#f08328"/>
<circle cx="224.3" cy="2266.67" r="5.4" fill="#f08328"/>
<circle cx="224.3" cy="2345" r="5.4" fill="#f08328"/>
<circle cx="224.3" cy="2367.78" r="5.4" fill="#f08328"/>
<circle cx="237.2" cy="2205.19" r="5.4" fill="#f08328"/>
<circle cx="237.2" cy="2221.85" r="5.4" fill="#f08328"/>
<circle cx="237.2" cy="2281.48" r="5.4" fill="#f08328"/>
<circle cx="237.2" cy="2302.41" r="5.4" fill="#f08328"/>
<circle cx="250" cy="2221.85" r="5.4" fill="#f08328"/>
<circle cx="250" cy="2247.78" r="5.4" fill="#f08328"/>
<circle cx="250.7" cy="2248.15" r="5.4" fill="#f08328"/>
<circle cx="250" cy="2302.41" r="5.4" fill="#f08328"/>
<circle cx="263.1" cy="2330.56" r="5.4" fill="#f08328"/>
<circle cx="263.1" cy="2345.93" r="5.4" fill="#f08328"/>
<circle cx="263.1" cy="2367.78" r="5.4" fill="#f08328"/>
<circle cx="263.8" cy="2367.96" r="5.4" fill="#f08328"/>
<circle cx="276.1" cy="2248.15" r="5.4" fill="#f08328"/>
<circle cx="276.1" cy="2274.26" r="5.4" fill="#f08328"/>
<circle cx="276.8" cy="2275" r="5.4" fill="#f08328"/>
<circle cx="276.1" cy="2302.41" r="5.4" fill="#f08328"/>
<circle cx="289.1" cy="2205.19" r="5.4" fill="#f08328"/>
<circle cx="289.1" cy="2236.11" r="5.4" fill="#f08328"/>
<circle cx="289.1" cy="2266.67" r="5.4" fill="#f08328"/>
<circle cx="289.1" cy="2324.07" r="5.4" fill="#f08328"/>
<path d="M305.69 2179.8L315.71 2189.82M305.69 2189.82L315.71 2179.8" stroke="#1f00ff" stroke-width="3.4" fill="none"/>
<path d="M305.69 2200.18L315.71 2210.2M305.69 2210.2L315.71 2200.18" stroke="#1f00ff" stroke-width="3.4" fill="none"/>
<path d="M305.69 2261.29L315.71 2271.31M305.69 2271.31L315.71 2261.29" stroke="#1f00ff" stroke-width="3.4" fill="none"/>
<path d="M305.69 2269.62L315.71 2279.64M305.69 2279.64L315.71 2269.62" stroke="#1f00ff" stroke-width="3.4" fill="none"/>
<path d="M318.49 2241.84L328.51 2251.86M318.49 2251.86L328.51 2241.84" stroke="#1f00ff" stroke-width="3.4" fill="none"/>
<path d="M318.49 2251.1L328.51 2261.12M318.49 2261.12L328.51 2251.1" stroke="#1f00ff" stroke-width="3.4" fill="none"/>
<path d="M318.49 2282.58L328.51 2292.6M318.49 2292.6L328.51 2282.58" stroke="#1f00ff" stroke-width="3.4" fill="none"/>
<path d="M318.49 2316.84L328.51 2326.86M318.49 2326.86L328.51 2316.84" stroke="#1f00ff" stroke-width="3.4" fill="none"/>
<path d="M331.69 2230.73L341.71 2240.75M331.69 2240.75L341.71 2230.73" stroke="#1f00ff" stroke-width="3.4" fill="none"/>
<path d="M331.69 2252.95L341.71 2262.97M331.69 2262.97L341.71 2252.95" stroke="#1f00ff" stroke-width="3.4" fill="none"/>
<path d="M331.69 2304.8L341.71 2314.82M331.69 2314.82L341.71 2304.8" stroke="#1f00ff" stroke-width="3.4" fill="none"/>
<path d="M331.69 2362.77L341.71 2372.79M331.69 2372.79L341.71 2362.77" stroke="#1f00ff" stroke-width="3.4" fill="none"/>
<path d="M344.59 2230.73L354.61 2240.75M344.59 2240.75L354.61 2230.73" stroke="#1f00ff" stroke-width="3.4" fill="none"/>
<path d="M346.59 2230.92L356.61 2240.94M346.59 2240.94L356.61 2230.92" stroke="#1f00ff" stroke-width="3.4" fill="none"/>
<path d="M344.59 2241.84L354.61 2251.86M344.59 2251.86L354.61 2241.84" stroke="#1f00ff" stroke-width="3.4" fill="none"/>
<path d="M344.59 2319.25L354.61 2329.27M344.59 2329.27L354.61 2319.25" stroke="#1f00ff" stroke-width="3.4" fill="none"/>
<path d="M357.39 2200.18L367.41 2210.2M357.39 2210.2L367.41 2200.18" stroke="#1f00ff" stroke-width="3.4" fill="none"/>
<path d="M357.39 2216.84L367.41 2226.86M357.39 2226.86L367.41 2216.84" stroke="#1f00ff" stroke-width="3.4" fill="none"/>
<path d="M357.39 2243.14L367.41 2253.16M357.39 2253.16L367.41 2243.14" stroke="#1f00ff" stroke-width="3.4" fill="none"/>
<path d="M357.39 2262.21L367.41 2272.23M357.39 2272.23L367.41 2262.21" stroke="#1f00ff" stroke-width="3.4" fill="none"/>
<path d="M370.39 2200.18L380.41 2210.2M370.39 2210.2L380.41 2200.18" stroke="#1f00ff" stroke-width="3.4" fill="none"/>
<path d="M372.39 2200.36L382.41 2210.38M372.39 2210.38L382.41 2200.36" stroke="#1f00ff" stroke-width="3.4" fill="none"/>
<path d="M370.39 2243.14L380.41 2253.16M370.39 2253.16L380.41 2243.14" stroke="#1f00ff" stroke-width="3.4" fill="none"/>
<path d="M370.39 2262.21L380.41 2272.23M370.39 2272.23L380.41 2262.21" stroke="#1f00ff" stroke-width="3.4" fill="none"/>
<path d="M383.49 2252.95L393.51 2262.97M383.49 2262.97L393.51 2252.95" stroke="#1f00ff" stroke-width="3.4" fill="none"/>
<path d="M383.49 2275.18L393.51 2285.2M383.49 2285.2L393.51 2275.18" stroke="#1f00ff" stroke-width="3.4" fill="none"/>
<path d="M383.49 2292.77L393.51 2302.79M383.49 2302.79L393.51 2292.77" stroke="#1f00ff" stroke-width="3.4" fill="none"/>
<path d="M383.49 2310.36L393.51 2320.38M383.49 2320.38L393.51 2310.36" stroke="#1f00ff" stroke-width="3.4" fill="none"/>
<path d="M396.49 2230.73L406.51 2240.75M396.49 2240.75L406.51 2230.73" stroke="#1f00ff" stroke-width="3.4" fill="none"/>
<path d="M396.49 2282.58L406.51 2292.6M396.49 2292.6L406.51 2282.58" stroke="#1f00ff" stroke-width="3.4" fill="none"/>
<path d="M396.49 2307.58L406.51 2317.6M396.49 2317.6L406.51 2307.58" stroke="#1f00ff" stroke-width="3.4" fill="none"/>
<path d="M398.49 2307.77L408.51 2317.79M398.49 2317.79L408.51 2307.77" stroke="#1f00ff" stroke-width="3.4" fill="none"/>
<path d="M409.39 2179.8L419.41 2189.82M409.39 2189.82L419.41 2179.8" stroke="#1f00ff" stroke-width="3.4" fill="none"/>
<path d="M409.39 2241.84L419.41 2251.86M409.39 2251.86L419.41 2241.84" stroke="#1f00ff" stroke-width="3.4" fill="none"/>
<path d="M411.39 2242.03L421.41 2252.05M411.39 2252.05L421.41 2242.03" stroke="#1f00ff" stroke-width="3.4" fill="none"/>
<path d="M409.39 2282.58L419.41 2292.6M409.39 2292.6L419.41 2282.58" stroke="#1f00ff" stroke-width="3.4" fill="none"/>
<path d="M422.39 2200.18L432.41 2210.2M422.39 2210.2L432.41 2200.18" stroke="#1f00ff" stroke-width="3.4" fill="none"/>
<path d="M422.39 2252.95L432.41 2262.97M422.39 2262.97L432.41 2252.95" stroke="#1f00ff" stroke-width="3.4" fill="none"/>
<path d="M422.39 2269.62L432.41 2279.64M422.39 2279.64L432.41 2269.62" stroke="#1f00ff" stroke-width="3.4" fill="none"/>
<path d="M422.39 2347.4L432.41 2357.42M422.39 2357.42L432.41 2347.4" stroke="#1f00ff" stroke-width="3.4" fill="none"/>
<path d="M435.39 2179.8L445.41 2189.82M435.39 2189.82L445.41 2179.8" stroke="#1f00ff" stroke-width="3.4" fill="none"/>
<path d="M435.39 2230.73L445.41 2240.75M435.39 2240.75L445.41 2230.73" stroke="#1f00ff" stroke-width="3.4" fill="none"/>
<path d="M435.39 2276.47L445.41 2286.49M435.39 2286.49L445.41 2276.47" stroke="#1f00ff" stroke-width="3.4" fill="none"/>
<path d="M435.39 2292.77L445.41 2302.79M435.39 2302.79L445.41 2292.77" stroke="#1f00ff" stroke-width="3.4" fill="none"/>
<path d="M448.29 2230.73L458.31 2240.75M448.29 2240.75L458.31 2230.73" stroke="#1f00ff" stroke-width="3.4" fill="none"/>
<path d="M448.29 2252.95L458.31 2262.97M448.29 2262.97L458.31 2252.95" stroke="#1f00ff" stroke-width="3.4" fill="none"/>
<path d="M450.29 2253.14L460.31 2263.16M450.29 2263.16L460.31 2253.14" stroke="#1f00ff" stroke-width="3.4" fill="none"/>
<path d="M448.29 2321.47L458.31 2331.49M448.29 2331.49L458.31 2321.47" stroke="#1f00ff" stroke-width="3.4" fill="none"/>
<path d="M474.9 2087.86V2206.48M472.65 2087.86H477.15M472.65 2206.48H477.15" stroke="#000" stroke-width="1.6" fill="none"/>
<line x1="470.55" y1="2147.42" x2="479.25" y2="2147.42" stroke="#000" stroke-width="3"/>
<path d="M488 2163.25V2223.57M485.75 2163.25H490.25M485.75 2223.57H490.25" stroke="#000" stroke-width="1.6" fill="none"/>
<line x1="483.65" y1="2191.65" x2="492.35" y2="2191.65" stroke="#000" stroke-width="3"/>
<path d="M500.8 2091.63V2216.03M498.55 2091.63H503.05M498.55 2216.03H503.05" stroke="#000" stroke-width="1.6" fill="none"/>
<line x1="496.45" y1="2153.2" x2="505.15" y2="2153.2" stroke="#000" stroke-width="3"/>
<path d="M513.9 2224.07V2359.28M511.65 2224.07H516.15M511.65 2359.28H516.15" stroke="#000" stroke-width="1.6" fill="none"/>
<line x1="509.55" y1="2291.93" x2="518.25" y2="2291.93" stroke="#000" stroke-width="3"/>
<path d="M526.7 2197.68V2270.57M524.45 2197.68H528.95M524.45 2270.57H528.95" stroke="#000" stroke-width="1.6" fill="none"/>
<line x1="522.35" y1="2234.12" x2="531.05" y2="2234.12" stroke="#000" stroke-width="3"/>
<path d="M539.8 2226.08V2292.68M537.55 2226.08H542.05M537.55 2292.68H542.05" stroke="#000" stroke-width="1.6" fill="none"/>
<line x1="535.45" y1="2256.74" x2="544.15" y2="2256.74" stroke="#000" stroke-width="3"/>
<path d="M574.5 2334.15V2368.08M572.25 2334.15H576.75M572.25 2368.08H576.75" stroke="#000" stroke-width="1.6" fill="none"/>
<path d="M587.5 2285.14V2394.47M585.25 2285.14H589.75M585.25 2394.47H589.75" stroke="#000" stroke-width="1.6" fill="none"/>
<line x1="583.15" y1="2340.43" x2="591.85" y2="2340.43" stroke="#000" stroke-width="3"/>
<path d="M600.6 2311.53V2374.36M598.35 2311.53H602.85M598.35 2374.36H602.85" stroke="#000" stroke-width="1.6" fill="none"/>
<line x1="596.25" y1="2342.44" x2="604.95" y2="2342.44" stroke="#000" stroke-width="3"/>
<path d="M613.7 2349.23V2373.86M611.45 2349.23H615.95M611.45 2373.86H615.95" stroke="#000" stroke-width="1.6" fill="none"/>
<line x1="609.35" y1="2361.79" x2="618.05" y2="2361.79" stroke="#000" stroke-width="3"/>
<circle cx="474.9" cy="2082.08" r="5.4" fill="#f08328"/>
<circle cx="474.9" cy="2126.06" r="5.4" fill="#f08328"/>
<circle cx="474.9" cy="2158.98" r="5.4" fill="#f08328"/>
<circle cx="474.9" cy="2221.81" r="5.4" fill="#f08328"/>
<circle cx="488" cy="2158.98" r="5.4" fill="#f08328"/>
<circle cx="488" cy="2184.61" r="5.4" fill="#f08328"/>
<circle cx="488.7" cy="2185.62" r="5.4" fill="#f08328"/>
<circle cx="488" cy="2236.13" r="5.4" fill="#f08328"/>
<circle cx="500.8" cy="2082.08" r="5.4" fill="#f08328"/>
<circle cx="500.8" cy="2126.06" r="5.4" fill="#f08328"/>
<circle cx="500.8" cy="2185.12" r="5.4" fill="#f08328"/>
<circle cx="500.8" cy="2221.81" r="5.4" fill="#f08328"/>
<circle cx="513.9" cy="2205.47" r="5.4" fill="#f08328"/>
<circle cx="513.9" cy="2281.37" r="5.4" fill="#f08328"/>
<circle cx="513.9" cy="2313.29" r="5.4" fill="#f08328"/>
<circle cx="513.9" cy="2368.08" r="5.4" fill="#f08328"/>
<circle cx="526.7" cy="2205.47" r="5.4" fill="#f08328"/>
<circle cx="526.7" cy="2221.31" r="5.4" fill="#f08328"/>
<circle cx="527.4" cy="2222.31" r="5.4" fill="#f08328"/>
<circle cx="526.7" cy="2287.66" r="5.4" fill="#f08328"/>
<circle cx="539.8" cy="2221.81" r="5.4" fill="#f08328"/>
<circle cx="539.8" cy="2236.13" r="5.4" fill="#f08328"/>
<circle cx="539.8" cy="2275.09" r="5.4" fill="#f08328"/>
<circle cx="539.8" cy="2292.68" r="5.4" fill="#f08328"/>
<path d="M556.49 2363.07L566.51 2373.09M556.49 2373.09L566.51 2363.07" stroke="#1f00ff" stroke-width="3.4" fill="none"/>
<path d="M559.49 2363.32L569.51 2373.34M559.49 2373.34L569.51 2363.32" stroke="#1f00ff" stroke-width="3.4" fill="none"/>
<path d="M569.49 2323.61L579.51 2333.63M569.49 2333.63L579.51 2323.61" stroke="#1f00ff" stroke-width="3.4" fill="none"/>
<path d="M569.49 2344.97L579.51 2354.99M569.49 2354.99L579.51 2344.97" stroke="#1f00ff" stroke-width="3.4" fill="none"/>
<path d="M569.49 2363.07L579.51 2373.09M569.49 2373.09L579.51 2363.07" stroke="#1f00ff" stroke-width="3.4" fill="none"/>
<path d="M572.49 2363.32L582.51 2373.34M572.49 2373.34L582.51 2363.32" stroke="#1f00ff" stroke-width="3.4" fill="none"/>
<path d="M582.49 2252.49L592.51 2262.51M582.49 2262.51L592.51 2252.49" stroke="#1f00ff" stroke-width="3.4" fill="none"/>
<path d="M582.49 2363.07L592.51 2373.09M582.49 2373.09L592.51 2363.07" stroke="#1f00ff" stroke-width="3.4" fill="none"/>
<path d="M595.59 2297.72L605.61 2307.74M595.59 2307.74L605.61 2297.72" stroke="#1f00ff" stroke-width="3.4" fill="none"/>
<path d="M595.59 2329.14L605.61 2339.16M595.59 2339.16L605.61 2329.14" stroke="#1f00ff" stroke-width="3.4" fill="none"/>
<path d="M595.59 2363.07L605.61 2373.09M595.59 2373.09L605.61 2363.07" stroke="#1f00ff" stroke-width="3.4" fill="none"/>
<path d="M598.59 2363.32L608.61 2373.34M598.59 2373.34L608.61 2363.32" stroke="#1f00ff" stroke-width="3.4" fill="none"/>
<path d="M608.69 2337.94L618.71 2347.96M608.69 2347.96L618.71 2337.94" stroke="#1f00ff" stroke-width="3.4" fill="none"/>
<path d="M608.69 2363.07L618.71 2373.09M608.69 2373.09L618.71 2363.07" stroke="#1f00ff" stroke-width="3.4" fill="none"/>
<path d="M611.69 2363.32L621.71 2373.34M611.69 2373.34L621.71 2363.32" stroke="#1f00ff" stroke-width="3.4" fill="none"/>
<line x1="653.3" y1="2035" x2="653.3" y2="2391.9" stroke="#000" stroke-width="5.4"/>
<line x1="637.8" y1="2037.7" x2="653.3" y2="2037.7" stroke="#000" stroke-width="5.4"/>
<line x1="637.8" y1="2108" x2="653.3" y2="2108" stroke="#000" stroke-width="5.4"/>
<line x1="637.8" y1="2178.3" x2="653.3" y2="2178.3" stroke="#000" stroke-width="5.4"/>
<line x1="637.8" y1="2248.6" x2="653.3" y2="2248.6" stroke="#000" stroke-width="5.4"/>
<line x1="637.8" y1="2318.9" x2="653.3" y2="2318.9" stroke="#000" stroke-width="5.4"/>
<line x1="637.8" y1="2389.2" x2="653.3" y2="2389.2" stroke="#000" stroke-width="5.4"/>
<line x1="637.8" y1="2390" x2="794" y2="2390" stroke="#000" stroke-width="5.4"/>
<line x1="692.1" y1="2390" x2="692.1" y2="2406" stroke="#000" stroke-width="5.4"/>
<line x1="751.6" y1="2390" x2="751.6" y2="2406" stroke="#000" stroke-width="5.4"/>
<line x1="663.4" y1="2361.2" x2="791" y2="2361.2" stroke="#000" stroke-width="3.6" stroke-dasharray="0 10.56" stroke-linecap="round"/>
<text x="692.1" y="2440.2" font-size="34" text-anchor="middle">90</text>
<text x="751.6" y="2440.2" font-size="34" text-anchor="middle">180</text>
<text transform="translate(725 2487.9) scale(1.02 1)" font-size="33.5" text-anchor="middle">dpi</text>
<line x1="678.8" y1="2060.7" x2="716" y2="2060.7" stroke="#f08328" stroke-width="3.5"/>
<circle cx="697.3" cy="2060.7" r="5.5" fill="#f08328"/>
<line x1="678.8" y1="2108" x2="716" y2="2108" stroke="#1f00ff" stroke-width="3.5"/>
<path d="M692.29 2102.99L702.31 2113.01M692.29 2113.01L702.31 2102.99" stroke="#1f00ff" stroke-width="3.4" fill="none"/>
<text x="737.5" y="2070.3" font-size="29.5">WT</text>
<text x="737.5" y="2117.5" font-size="29.5">KO</text>
<path d="M692.1 2217.8V2304M687.1 2217.8H697.1M687.1 2304H697.1" stroke="#000" stroke-width="1.5" fill="none"/>
<path d="M692.1 2228.6V2334.2M687.1 2228.6H697.1M687.1 2334.2H697.1" stroke="#000" stroke-width="1.5" fill="none"/>
<path d="M751.6 2141.1V2281.4M746.6 2141.1H756.6M746.6 2281.4H756.6" stroke="#000" stroke-width="1.5" fill="none"/>
<path d="M751.6 2323.3V2380.6M746.6 2323.3H756.6M746.6 2380.6H756.6" stroke="#000" stroke-width="1.5" fill="none"/>
<line x1="692.1" y1="2260.5" x2="751.6" y2="2352.2" stroke="#1f00ff" stroke-width="3.5"/>
<line x1="692.1" y1="2281.4" x2="751.6" y2="2211.5" stroke="#f08328" stroke-width="3.5"/>
<path d="M687.09 2255.49L697.11 2265.51M687.09 2265.51L697.11 2255.49" stroke="#1f00ff" stroke-width="3.4" fill="none"/>
<path d="M746.59 2347.19L756.61 2357.21M746.59 2357.21L756.61 2347.19" stroke="#1f00ff" stroke-width="3.4" fill="none"/>
<circle cx="692.1" cy="2281.4" r="5.5" fill="#f08328"/>
<circle cx="751.6" cy="2211.5" r="5.5" fill="#f08328"/>
<line x1="902.8" y1="2037.2" x2="902.8" y2="2393.3" stroke="#000" stroke-width="5.2"/>
<line x1="887.3" y1="2071.7" x2="902.8" y2="2071.7" stroke="#000" stroke-width="5.2"/>
<text x="883" y="2083.2" font-size="33.8" text-anchor="end">100</text>
<line x1="887.3" y1="2151.45" x2="902.8" y2="2151.45" stroke="#000" stroke-width="5.2"/>
<text x="883" y="2162.95" font-size="33.8" text-anchor="end">75</text>
<line x1="887.3" y1="2231.2" x2="902.8" y2="2231.2" stroke="#000" stroke-width="5.2"/>
<text x="883" y="2242.7" font-size="33.8" text-anchor="end">50</text>
<line x1="887.3" y1="2310.95" x2="902.8" y2="2310.95" stroke="#000" stroke-width="5.2"/>
<text x="883" y="2322.45" font-size="33.8" text-anchor="end">25</text>
<line x1="887.3" y1="2390.7" x2="902.8" y2="2390.7" stroke="#000" stroke-width="5.2"/>
<text x="883" y="2402.2" font-size="33.8" text-anchor="end">0</text>
<line x1="887.3" y1="2390.7" x2="1320" y2="2390.7" stroke="#000" stroke-width="5.2"/>
<line x1="985.1" y1="2390.7" x2="985.1" y2="2406.7" stroke="#000" stroke-width="5.2"/>
<line x1="1068" y1="2390.7" x2="1068" y2="2406.7" stroke="#000" stroke-width="5.2"/>
<line x1="1150.8" y1="2390.7" x2="1150.8" y2="2406.7" stroke="#000" stroke-width="5.2"/>
<line x1="1233.6" y1="2390.7" x2="1233.6" y2="2406.7" stroke="#000" stroke-width="5.2"/>
<line x1="913.1" y1="2311.2" x2="1320" y2="2311.2" stroke="#000" stroke-width="3.6" stroke-dasharray="0 10.56" stroke-linecap="round"/>
<text transform="translate(823 2212) rotate(-90) scale(1.02 1)" font-size="33" text-anchor="middle">% positive wells</text>
<text x="985.1" y="2440.2" font-size="34" text-anchor="middle">WT</text>
<text x="1068" y="2440.2" font-size="34" text-anchor="middle">KO</text>
<text x="1150.8" y="2440.2" font-size="34" text-anchor="middle">WT</text>
<text x="1233.6" y="2440.2" font-size="34" text-anchor="middle">KO</text>
<path d="M985.3 2033.9V2025.1H1068.3V2033.9" fill="none" stroke="#000" stroke-width="5" stroke-linejoin="miter"/>
<path d="M985.3 2003.8V1978H1143.9V2030.9" fill="none" stroke="#000" stroke-width="5" stroke-linejoin="miter"/>
<path d="M1157.8 2030.9V2024.6H1233.6V2207.1" fill="none" stroke="#000" stroke-width="5" stroke-linejoin="miter"/>
<path d="M1068.3 1927.4V1907.1H1233.6V1974.5" fill="none" stroke="#000" stroke-width="5" stroke-linejoin="miter"/>
<text x="1027" y="2010.2" font-size="33.3" text-anchor="middle">ns</text>
<text x="1065" y="1963.2" font-size="33.3" text-anchor="middle">ns</text>
<text x="1174.47" y="2020.63" font-size="39.5" class="sb" letter-spacing="6.15">**</text>
<text x="1116.63" y="1902.23" font-size="39.5" class="sb" letter-spacing="6.15">***</text>
<path d="M985.2 2044.7V2178.2M971.45 2044.7H998.95M971.45 2178.2H998.95" stroke="#000" stroke-width="1.5" fill="none"/>
<line x1="957.7" y1="2111.1" x2="1012.7" y2="2111.1" stroke="#000" stroke-width="2.8"/>
<circle cx="962.7" cy="2071.6" r="5.3" fill="#f08328"/>
<circle cx="977.5" cy="2071.6" r="5.3" fill="#f08328"/>
<circle cx="992.6" cy="2071.6" r="5.3" fill="#f08328"/>
<circle cx="1007.7" cy="2071.6" r="5.3" fill="#f08328"/>
<circle cx="985.1" cy="2151.5" r="5.3" fill="#f08328"/>
<circle cx="985.1" cy="2231.2" r="5.3" fill="#f08328"/>
<path d="M1068.2 2055V2101M1054.45 2055H1081.95M1054.45 2101H1081.95" stroke="#000" stroke-width="1.5" fill="none"/>
<line x1="1040.7" y1="2078.1" x2="1095.7" y2="2078.1" stroke="#000" stroke-width="2.8"/>
<path d="M1041.09 2066.59L1051.11 2076.61M1041.09 2076.61L1051.11 2066.59" stroke="#1f00ff" stroke-width="3.4" fill="none"/>
<path d="M1046.05 2066.59L1056.07 2076.61M1046.05 2076.61L1056.07 2066.59" stroke="#1f00ff" stroke-width="3.4" fill="none"/>
<path d="M1051 2066.59L1061.02 2076.61M1051 2076.61L1061.02 2066.59" stroke="#1f00ff" stroke-width="3.4" fill="none"/>
<path d="M1055.96 2066.59L1065.98 2076.61M1055.96 2076.61L1065.98 2066.59" stroke="#1f00ff" stroke-width="3.4" fill="none"/>
<path d="M1060.91 2066.59L1070.93 2076.61M1060.91 2076.61L1070.93 2066.59" stroke="#1f00ff" stroke-width="3.4" fill="none"/>
<path d="M1065.87 2066.59L1075.89 2076.61M1065.87 2076.61L1075.89 2066.59" stroke="#1f00ff" stroke-width="3.4" fill="none"/>
<path d="M1070.82 2066.59L1080.84 2076.61M1070.82 2076.61L1080.84 2066.59" stroke="#1f00ff" stroke-width="3.4" fill="none"/>
<path d="M1075.78 2066.59L1085.8 2076.61M1075.78 2076.61L1085.8 2066.59" stroke="#1f00ff" stroke-width="3.4" fill="none"/>
<path d="M1080.73 2066.59L1090.75 2076.61M1080.73 2076.61L1090.75 2066.59" stroke="#1f00ff" stroke-width="3.4" fill="none"/>
<path d="M1085.69 2066.59L1095.71 2076.61M1085.69 2076.61L1095.71 2066.59" stroke="#1f00ff" stroke-width="3.4" fill="none"/>
<path d="M1063.29 2146.49L1073.31 2156.51M1063.29 2156.51L1073.31 2146.49" stroke="#1f00ff" stroke-width="3.4" fill="none"/>
<path d="M1150.8 2052.2V2117M1137.05 2052.2H1164.55M1137.05 2117H1164.55" stroke="#000" stroke-width="1.5" fill="none"/>
<line x1="1123.3" y1="2084.5" x2="1178.3" y2="2084.5" stroke="#000" stroke-width="2.8"/>
<circle cx="1128.5" cy="2071.3" r="5.3" fill="#f08328"/>
<circle cx="1139.6" cy="2071.3" r="5.3" fill="#f08328"/>
<circle cx="1150.8" cy="2071.3" r="5.3" fill="#f08328"/>
<circle cx="1162" cy="2071.3" r="5.3" fill="#f08328"/>
<circle cx="1173.1" cy="2071.3" r="5.3" fill="#f08328"/>
<circle cx="1150.8" cy="2151.3" r="5.3" fill="#f08328"/>
<path d="M1233.6 2228V2361.6M1219.85 2228H1247.35M1219.85 2361.6H1247.35" stroke="#000" stroke-width="1.5" fill="none"/>
<line x1="1206.1" y1="2294.7" x2="1261.1" y2="2294.7" stroke="#000" stroke-width="2.8"/>
<path d="M1217.69 2226.29L1227.71 2236.31M1217.69 2236.31L1227.71 2226.29" stroke="#1f00ff" stroke-width="3.4" fill="none"/>
<path d="M1239.49 2226.29L1249.51 2236.31M1239.49 2236.31L1249.51 2226.29" stroke="#1f00ff" stroke-width="3.4" fill="none"/>
<path d="M1217.69 2305.79L1227.71 2315.81M1217.69 2315.81L1227.71 2305.79" stroke="#1f00ff" stroke-width="3.4" fill="none"/>
<path d="M1239.49 2305.79L1249.51 2315.81M1239.49 2315.81L1249.51 2305.79" stroke="#1f00ff" stroke-width="3.4" fill="none"/>
<path d="M1228.59 2384.99L1238.61 2395.01M1228.59 2395.01L1238.61 2384.99" stroke="#1f00ff" stroke-width="3.4" fill="none"/>
<line x1="1344.3" y1="2067" x2="1344.3" y2="2391.8" stroke="#000" stroke-width="5.2"/>
<line x1="1328.8" y1="2069.6" x2="1344.3" y2="2069.6" stroke="#000" stroke-width="5.2"/>
<line x1="1328.8" y1="2149.5" x2="1344.3" y2="2149.5" stroke="#000" stroke-width="5.2"/>
<line x1="1328.8" y1="2229.4" x2="1344.3" y2="2229.4" stroke="#000" stroke-width="5.2"/>
<line x1="1328.8" y1="2309.3" x2="1344.3" y2="2309.3" stroke="#000" stroke-width="5.2"/>
<line x1="1328.8" y1="2389.2" x2="1344.3" y2="2389.2" stroke="#000" stroke-width="5.2"/>
<line x1="1328.8" y1="2389" x2="1484.5" y2="2389" stroke="#000" stroke-width="5.2"/>
<line x1="1365.2" y1="2389" x2="1365.2" y2="2405" stroke="#000" stroke-width="5.2"/>
<line x1="1460.7" y1="2389" x2="1460.7" y2="2405" stroke="#000" stroke-width="5.2"/>
<line x1="1354.9" y1="2309.4" x2="1484" y2="2309.4" stroke="#000" stroke-width="3.6" stroke-dasharray="0 10.56" stroke-linecap="round"/>
<text x="1365.2" y="2440.2" font-size="34" text-anchor="middle">90</text>
<text x="1460.7" y="2440.2" font-size="34" text-anchor="middle">180</text>
<text transform="translate(1415.4 2487.9) scale(1.02 1)" font-size="33.5" text-anchor="middle">dpi</text>
<path d="M1365.2 2042.7V2176.3M1360.2 2042.7H1370.2M1360.2 2176.3H1370.2" stroke="#000" stroke-width="1.5" fill="none"/>
<path d="M1460.7 2226.2V2359.6M1455.7 2226.2H1465.7M1455.7 2359.6H1465.7" stroke="#000" stroke-width="1.5" fill="none"/>
<line x1="1365.2" y1="2070" x2="1460.7" y2="2292.7" stroke="#1f00ff" stroke-width="3.5"/>
<line x1="1365.2" y1="2109.6" x2="1460.7" y2="2069.7" stroke="#f08328" stroke-width="3.5"/>
<path d="M1360.19 2064.99L1370.21 2075.01M1360.19 2075.01L1370.21 2064.99" stroke="#1f00ff" stroke-width="3.4" fill="none"/>
<path d="M1455.69 2287.69L1465.71 2297.71M1455.69 2297.71L1465.71 2287.69" stroke="#1f00ff" stroke-width="3.4" fill="none"/>
<circle cx="1365.2" cy="2109.6" r="5.5" fill="#f08328"/>
<circle cx="1460.7" cy="2069.7" r="5.5" fill="#f08328"/>
</svg>
</body>
</html>
